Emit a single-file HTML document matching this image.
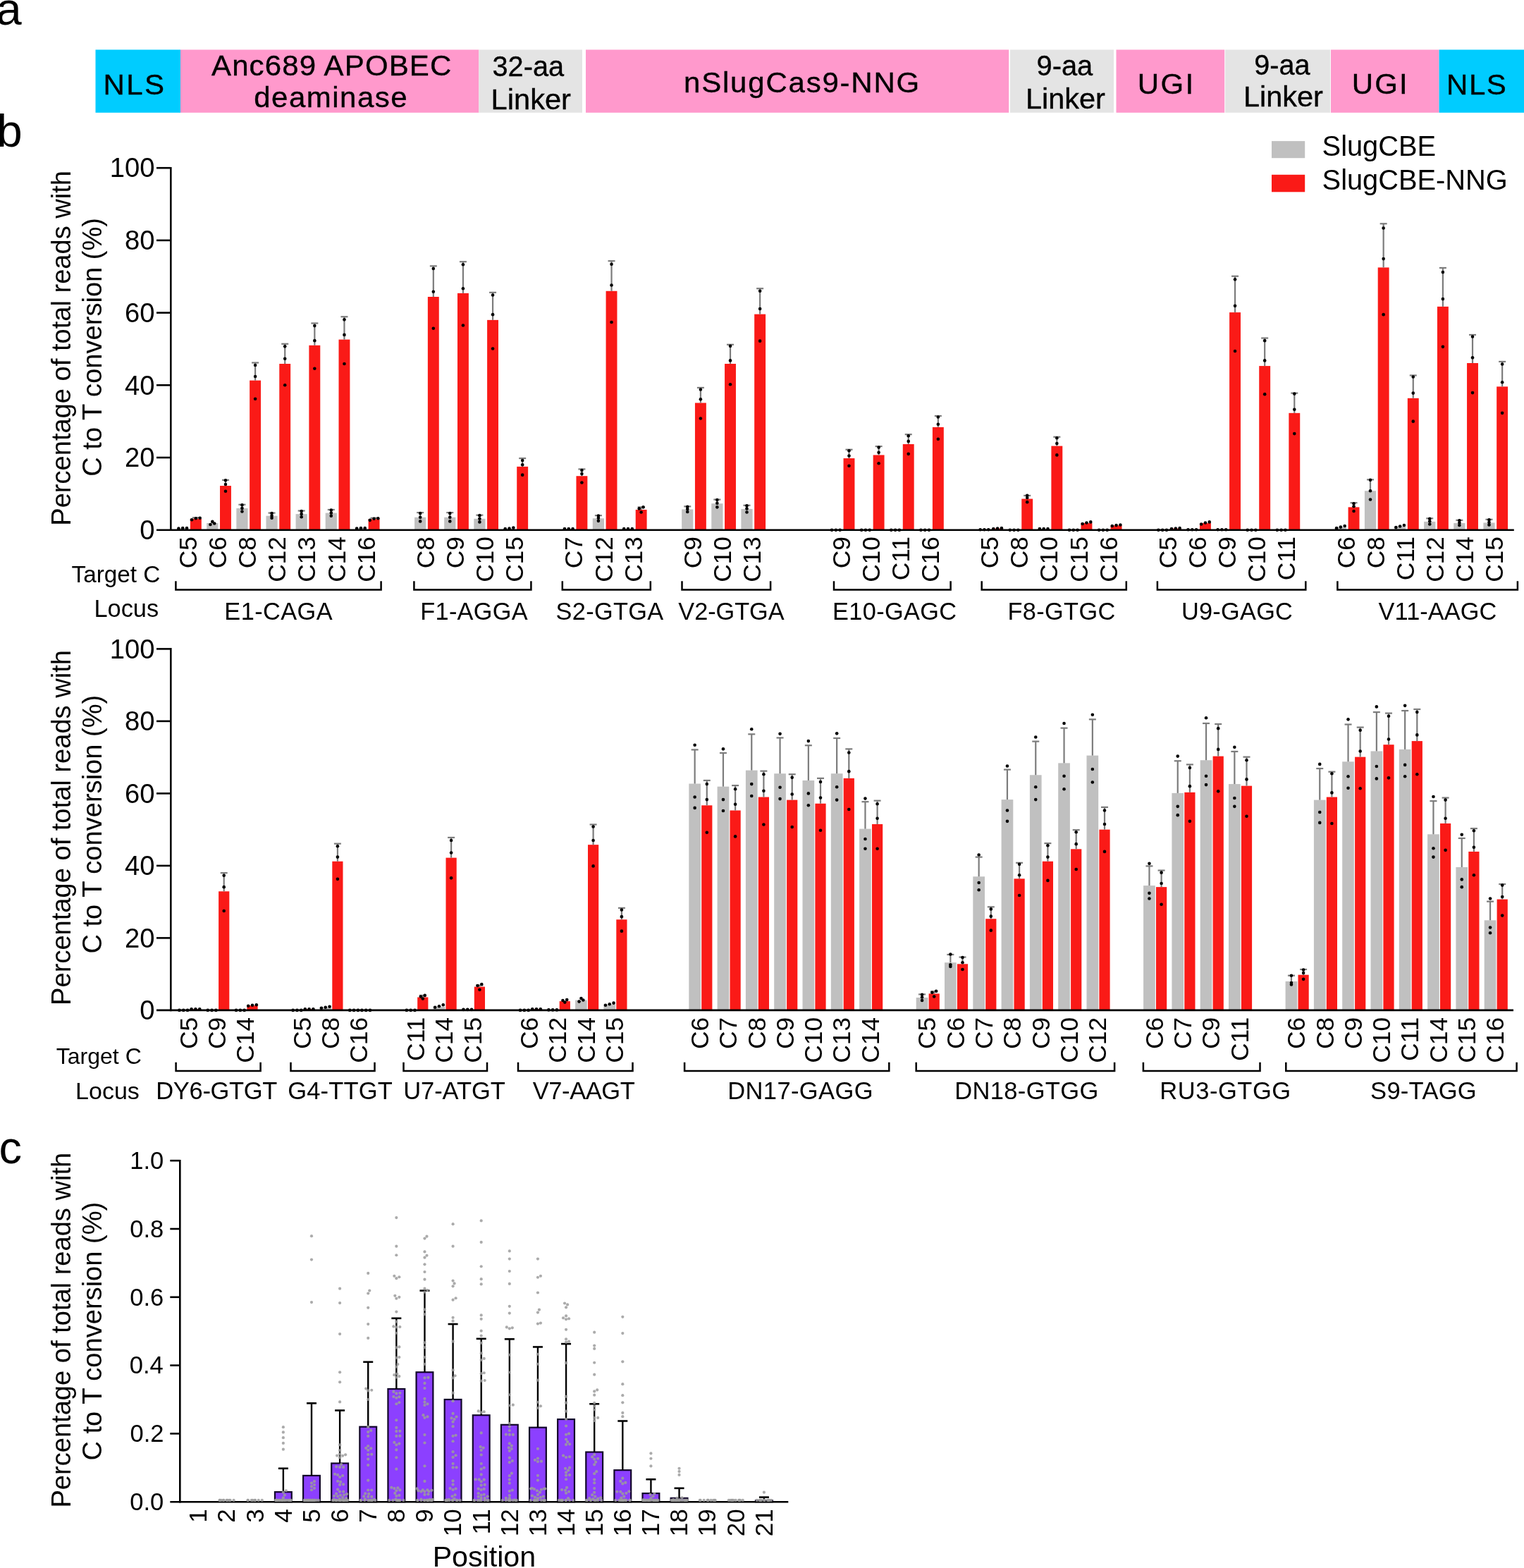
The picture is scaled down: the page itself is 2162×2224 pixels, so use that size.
<!DOCTYPE html>
<html><head><meta charset="utf-8"><title>Figure</title>
<style>html,body{margin:0;padding:0;background:#fff;overflow:hidden;} svg{display:block;}</style>
</head><body>
<svg width="2162" height="2224" viewBox="0 0 2162 2224" font-family="Liberation Sans, Arial, sans-serif">
<rect width="2162" height="2224" fill="#fff"/>
<text x="-5.5" y="35" font-size="65" text-anchor="start" fill="#000">a</text>
<text x="-4.5" y="207.5" font-size="65" text-anchor="start" fill="#000">b</text>
<text x="-1.6" y="1650" font-size="65" text-anchor="start" fill="#000">c</text>
<rect x="135.5" y="70.5" width="120.5" height="89.3" fill="#00ccff"/>
<rect x="256" y="70.5" width="423.3" height="89.3" fill="#ff99cc"/>
<rect x="679.3" y="70.5" width="146.7" height="89.3" fill="#e4e4e4"/>
<rect x="831" y="70.5" width="600.2" height="89.3" fill="#ff99cc"/>
<rect x="1433" y="70.5" width="147" height="89.3" fill="#e4e4e4"/>
<rect x="1583.5" y="70.5" width="153.7" height="89.3" fill="#ff99cc"/>
<rect x="1738.2" y="70.5" width="149" height="89.3" fill="#e4e4e4"/>
<rect x="1888" y="70.5" width="153.5" height="89.3" fill="#ff99cc"/>
<rect x="2041.5" y="70.5" width="120.5" height="89.3" fill="#00ccff"/>
<text transform="translate(146.59,134) scale(1.0500,1)" font-size="40" letter-spacing="2.20" stroke="#000" stroke-width="0.35">NLS</text>
<text transform="translate(300,107) scale(1.0500,1)" font-size="40" letter-spacing="1.07" stroke="#000" stroke-width="0.35">Anc689 APOBEC</text>
<text transform="translate(360.16,152) scale(1.0500,1)" font-size="40" letter-spacing="1.44" stroke="#000" stroke-width="0.35">deaminase</text>
<text transform="translate(698.51,108) scale(0.9926,1)" font-size="40" letter-spacing="0.00" stroke="#000" stroke-width="0.35">32-aa</text>
<text transform="translate(696.62,154.5) scale(1.0404,1)" font-size="40" letter-spacing="0.00" stroke="#000" stroke-width="0.35">Linker</text>
<text transform="translate(970.01,131.4) scale(1.0500,1)" font-size="40" letter-spacing="1.71" stroke="#000" stroke-width="0.35">nSlugCas9-NNG</text>
<text transform="translate(1470.46,107.4) scale(0.9968,1)" font-size="40" letter-spacing="0.00" stroke="#000" stroke-width="0.35">9-aa</text>
<text transform="translate(1454.93,153.6) scale(1.0375,1)" font-size="40" letter-spacing="0.00" stroke="#000" stroke-width="0.35">Linker</text>
<text transform="translate(1613.85,132.5) scale(1.0500,1)" font-size="40" letter-spacing="2.27" stroke="#000" stroke-width="0.35">UGI</text>
<text transform="translate(1779.27,106.25) scale(0.9904,1)" font-size="40" letter-spacing="0.00" stroke="#000" stroke-width="0.35">9-aa</text>
<text transform="translate(1763.88,151.25) scale(1.0380,1)" font-size="40" letter-spacing="0.00" stroke="#000" stroke-width="0.35">Linker</text>
<text transform="translate(1917.85,133) scale(1.0500,1)" font-size="40" letter-spacing="2.04" stroke="#000" stroke-width="0.35">UGI</text>
<text transform="translate(2052.09,134) scale(1.0500,1)" font-size="40" letter-spacing="1.48" stroke="#000" stroke-width="0.35">NLS</text>
<rect x="251.1" y="749.65" width="16.2" height="2.05" fill="#c0c0c0"/>
<rect x="269.9" y="735.78" width="15.9" height="15.92" fill="#fa1a17"/>
<line x1="277.85" y1="735.78" x2="277.85" y2="734.24" stroke="#7c7c7c" stroke-width="2.2"/>
<line x1="272.85" y1="734.24" x2="282.85" y2="734.24" stroke="#7c7c7c" stroke-width="2.2"/>
<rect x="293.22" y="741.94" width="16.2" height="9.76" fill="#c0c0c0"/>
<rect x="312.02" y="689.05" width="15.9" height="62.65" fill="#fa1a17"/>
<line x1="319.97" y1="689.05" x2="319.97" y2="680.84" stroke="#7c7c7c" stroke-width="2.2"/>
<line x1="314.97" y1="680.84" x2="324.97" y2="680.84" stroke="#7c7c7c" stroke-width="2.2"/>
<rect x="335.34" y="720.89" width="16.2" height="30.81" fill="#c0c0c0"/>
<line x1="343.44" y1="720.89" x2="343.44" y2="715.75" stroke="#7c7c7c" stroke-width="2.2"/>
<line x1="338.44" y1="715.75" x2="348.44" y2="715.75" stroke="#7c7c7c" stroke-width="2.2"/>
<rect x="354.14" y="539.62" width="15.9" height="212.08" fill="#fa1a17"/>
<line x1="362.09" y1="539.62" x2="362.09" y2="514.46" stroke="#7c7c7c" stroke-width="2.2"/>
<line x1="357.09" y1="514.46" x2="367.09" y2="514.46" stroke="#7c7c7c" stroke-width="2.2"/>
<rect x="377.46" y="731.67" width="16.2" height="20.03" fill="#c0c0c0"/>
<line x1="385.56" y1="731.67" x2="385.56" y2="727.57" stroke="#7c7c7c" stroke-width="2.2"/>
<line x1="380.56" y1="727.57" x2="390.56" y2="727.57" stroke="#7c7c7c" stroke-width="2.2"/>
<rect x="396.26" y="516" width="15.9" height="235.7" fill="#fa1a17"/>
<line x1="404.21" y1="516" x2="404.21" y2="487.76" stroke="#7c7c7c" stroke-width="2.2"/>
<line x1="399.21" y1="487.76" x2="409.21" y2="487.76" stroke="#7c7c7c" stroke-width="2.2"/>
<rect x="419.58" y="729.11" width="16.2" height="22.59" fill="#c0c0c0"/>
<line x1="427.68" y1="729.11" x2="427.68" y2="724.48" stroke="#7c7c7c" stroke-width="2.2"/>
<line x1="422.68" y1="724.48" x2="432.68" y2="724.48" stroke="#7c7c7c" stroke-width="2.2"/>
<rect x="438.38" y="489.82" width="15.9" height="261.88" fill="#fa1a17"/>
<line x1="446.33" y1="489.82" x2="446.33" y2="458.49" stroke="#7c7c7c" stroke-width="2.2"/>
<line x1="441.33" y1="458.49" x2="451.33" y2="458.49" stroke="#7c7c7c" stroke-width="2.2"/>
<rect x="461.7" y="727.57" width="16.2" height="24.13" fill="#c0c0c0"/>
<line x1="469.8" y1="727.57" x2="469.8" y2="722.94" stroke="#7c7c7c" stroke-width="2.2"/>
<line x1="464.8" y1="722.94" x2="474.8" y2="722.94" stroke="#7c7c7c" stroke-width="2.2"/>
<rect x="480.5" y="481.6" width="15.9" height="270.1" fill="#fa1a17"/>
<line x1="488.45" y1="481.6" x2="488.45" y2="449.25" stroke="#7c7c7c" stroke-width="2.2"/>
<line x1="483.45" y1="449.25" x2="493.45" y2="449.25" stroke="#7c7c7c" stroke-width="2.2"/>
<rect x="503.82" y="749.65" width="16.2" height="2.05" fill="#c0c0c0"/>
<rect x="522.62" y="736.3" width="15.9" height="15.4" fill="#fa1a17"/>
<line x1="530.57" y1="736.3" x2="530.57" y2="734.75" stroke="#7c7c7c" stroke-width="2.2"/>
<line x1="525.57" y1="734.75" x2="535.57" y2="734.75" stroke="#7c7c7c" stroke-width="2.2"/>
<rect x="588.06" y="733.73" width="16.2" height="17.97" fill="#c0c0c0"/>
<line x1="596.16" y1="733.73" x2="596.16" y2="727.05" stroke="#7c7c7c" stroke-width="2.2"/>
<line x1="591.16" y1="727.05" x2="601.16" y2="727.05" stroke="#7c7c7c" stroke-width="2.2"/>
<rect x="606.86" y="421.01" width="15.9" height="330.69" fill="#fa1a17"/>
<line x1="614.81" y1="421.01" x2="614.81" y2="377.36" stroke="#7c7c7c" stroke-width="2.2"/>
<line x1="609.81" y1="377.36" x2="619.81" y2="377.36" stroke="#7c7c7c" stroke-width="2.2"/>
<rect x="630.18" y="733.73" width="16.2" height="17.97" fill="#c0c0c0"/>
<line x1="638.28" y1="733.73" x2="638.28" y2="727.05" stroke="#7c7c7c" stroke-width="2.2"/>
<line x1="633.28" y1="727.05" x2="643.28" y2="727.05" stroke="#7c7c7c" stroke-width="2.2"/>
<rect x="648.98" y="415.87" width="15.9" height="335.83" fill="#fa1a17"/>
<line x1="656.93" y1="415.87" x2="656.93" y2="371.2" stroke="#7c7c7c" stroke-width="2.2"/>
<line x1="651.93" y1="371.2" x2="661.93" y2="371.2" stroke="#7c7c7c" stroke-width="2.2"/>
<rect x="672.3" y="735.78" width="16.2" height="15.92" fill="#c0c0c0"/>
<line x1="680.4" y1="735.78" x2="680.4" y2="730.65" stroke="#7c7c7c" stroke-width="2.2"/>
<line x1="675.4" y1="730.65" x2="685.4" y2="730.65" stroke="#7c7c7c" stroke-width="2.2"/>
<rect x="691.1" y="453.87" width="15.9" height="297.83" fill="#fa1a17"/>
<line x1="699.05" y1="453.87" x2="699.05" y2="414.84" stroke="#7c7c7c" stroke-width="2.2"/>
<line x1="694.05" y1="414.84" x2="704.05" y2="414.84" stroke="#7c7c7c" stroke-width="2.2"/>
<rect x="714.42" y="749.65" width="16.2" height="2.05" fill="#c0c0c0"/>
<rect x="733.22" y="661.84" width="15.9" height="89.86" fill="#fa1a17"/>
<line x1="741.17" y1="661.84" x2="741.17" y2="650.03" stroke="#7c7c7c" stroke-width="2.2"/>
<line x1="736.17" y1="650.03" x2="746.17" y2="650.03" stroke="#7c7c7c" stroke-width="2.2"/>
<rect x="798.66" y="750.16" width="16.2" height="1.54" fill="#c0c0c0"/>
<rect x="817.46" y="675.19" width="15.9" height="76.51" fill="#fa1a17"/>
<line x1="825.41" y1="675.19" x2="825.41" y2="665.43" stroke="#7c7c7c" stroke-width="2.2"/>
<line x1="820.41" y1="665.43" x2="830.41" y2="665.43" stroke="#7c7c7c" stroke-width="2.2"/>
<rect x="840.78" y="735.27" width="16.2" height="16.43" fill="#c0c0c0"/>
<line x1="848.88" y1="735.27" x2="848.88" y2="731.16" stroke="#7c7c7c" stroke-width="2.2"/>
<line x1="843.88" y1="731.16" x2="853.88" y2="731.16" stroke="#7c7c7c" stroke-width="2.2"/>
<rect x="859.58" y="412.79" width="15.9" height="338.91" fill="#fa1a17"/>
<line x1="867.53" y1="412.79" x2="867.53" y2="370.17" stroke="#7c7c7c" stroke-width="2.2"/>
<line x1="862.53" y1="370.17" x2="872.53" y2="370.17" stroke="#7c7c7c" stroke-width="2.2"/>
<rect x="882.9" y="750.16" width="16.2" height="1.54" fill="#c0c0c0"/>
<rect x="901.7" y="722.94" width="15.9" height="28.76" fill="#fa1a17"/>
<line x1="909.65" y1="722.94" x2="909.65" y2="719.35" stroke="#7c7c7c" stroke-width="2.2"/>
<line x1="904.65" y1="719.35" x2="914.65" y2="719.35" stroke="#7c7c7c" stroke-width="2.2"/>
<rect x="967.14" y="722.43" width="16.2" height="29.27" fill="#c0c0c0"/>
<line x1="975.24" y1="722.43" x2="975.24" y2="718.32" stroke="#7c7c7c" stroke-width="2.2"/>
<line x1="970.24" y1="718.32" x2="980.24" y2="718.32" stroke="#7c7c7c" stroke-width="2.2"/>
<rect x="985.94" y="571.46" width="15.9" height="180.24" fill="#fa1a17"/>
<line x1="993.89" y1="571.46" x2="993.89" y2="549.89" stroke="#7c7c7c" stroke-width="2.2"/>
<line x1="988.89" y1="549.89" x2="998.89" y2="549.89" stroke="#7c7c7c" stroke-width="2.2"/>
<rect x="1009.26" y="714.21" width="16.2" height="37.49" fill="#c0c0c0"/>
<line x1="1017.36" y1="714.21" x2="1017.36" y2="708.57" stroke="#7c7c7c" stroke-width="2.2"/>
<line x1="1012.36" y1="708.57" x2="1022.36" y2="708.57" stroke="#7c7c7c" stroke-width="2.2"/>
<rect x="1028.06" y="516" width="15.9" height="235.7" fill="#fa1a17"/>
<line x1="1036.01" y1="516" x2="1036.01" y2="488.79" stroke="#7c7c7c" stroke-width="2.2"/>
<line x1="1031.01" y1="488.79" x2="1041.01" y2="488.79" stroke="#7c7c7c" stroke-width="2.2"/>
<rect x="1051.38" y="721.92" width="16.2" height="29.78" fill="#c0c0c0"/>
<line x1="1059.48" y1="721.92" x2="1059.48" y2="716.78" stroke="#7c7c7c" stroke-width="2.2"/>
<line x1="1054.48" y1="716.78" x2="1064.48" y2="716.78" stroke="#7c7c7c" stroke-width="2.2"/>
<rect x="1070.18" y="445.65" width="15.9" height="306.05" fill="#fa1a17"/>
<line x1="1078.13" y1="445.65" x2="1078.13" y2="409.2" stroke="#7c7c7c" stroke-width="2.2"/>
<line x1="1073.13" y1="409.2" x2="1083.13" y2="409.2" stroke="#7c7c7c" stroke-width="2.2"/>
<rect x="1196.54" y="650.03" width="15.9" height="101.67" fill="#fa1a17"/>
<line x1="1204.49" y1="650.03" x2="1204.49" y2="637.7" stroke="#7c7c7c" stroke-width="2.2"/>
<line x1="1199.49" y1="637.7" x2="1209.49" y2="637.7" stroke="#7c7c7c" stroke-width="2.2"/>
<rect x="1238.66" y="645.41" width="15.9" height="106.29" fill="#fa1a17"/>
<line x1="1246.61" y1="645.41" x2="1246.61" y2="633.08" stroke="#7c7c7c" stroke-width="2.2"/>
<line x1="1241.61" y1="633.08" x2="1251.61" y2="633.08" stroke="#7c7c7c" stroke-width="2.2"/>
<rect x="1280.78" y="630" width="15.9" height="121.7" fill="#fa1a17"/>
<line x1="1288.73" y1="630" x2="1288.73" y2="616.14" stroke="#7c7c7c" stroke-width="2.2"/>
<line x1="1283.73" y1="616.14" x2="1293.73" y2="616.14" stroke="#7c7c7c" stroke-width="2.2"/>
<rect x="1322.9" y="605.87" width="15.9" height="145.83" fill="#fa1a17"/>
<line x1="1330.85" y1="605.87" x2="1330.85" y2="589.95" stroke="#7c7c7c" stroke-width="2.2"/>
<line x1="1325.85" y1="589.95" x2="1335.85" y2="589.95" stroke="#7c7c7c" stroke-width="2.2"/>
<rect x="1388.34" y="751.19" width="16.2" height="0.51" fill="#c0c0c0"/>
<rect x="1407.14" y="749.65" width="15.9" height="2.05" fill="#fa1a17"/>
<rect x="1449.26" y="707.54" width="15.9" height="44.16" fill="#fa1a17"/>
<line x1="1457.21" y1="707.54" x2="1457.21" y2="702.92" stroke="#7c7c7c" stroke-width="2.2"/>
<line x1="1452.21" y1="702.92" x2="1462.21" y2="702.92" stroke="#7c7c7c" stroke-width="2.2"/>
<rect x="1472.58" y="750.16" width="16.2" height="1.54" fill="#c0c0c0"/>
<rect x="1491.38" y="632.57" width="15.9" height="119.13" fill="#fa1a17"/>
<line x1="1499.33" y1="632.57" x2="1499.33" y2="619.73" stroke="#7c7c7c" stroke-width="2.2"/>
<line x1="1494.33" y1="619.73" x2="1504.33" y2="619.73" stroke="#7c7c7c" stroke-width="2.2"/>
<rect x="1533.5" y="741.94" width="15.9" height="9.76" fill="#fa1a17"/>
<rect x="1575.62" y="745.28" width="15.9" height="6.42" fill="#fa1a17"/>
<rect x="1659.86" y="749.65" width="15.9" height="2.05" fill="#fa1a17"/>
<rect x="1683.18" y="751.19" width="16.2" height="0.51" fill="#c0c0c0"/>
<rect x="1701.98" y="741.94" width="15.9" height="9.76" fill="#fa1a17"/>
<rect x="1725.3" y="751.19" width="16.2" height="0.51" fill="#c0c0c0"/>
<rect x="1744.1" y="443.09" width="15.9" height="308.61" fill="#fa1a17"/>
<line x1="1752.05" y1="443.09" x2="1752.05" y2="391.74" stroke="#7c7c7c" stroke-width="2.2"/>
<line x1="1747.05" y1="391.74" x2="1757.05" y2="391.74" stroke="#7c7c7c" stroke-width="2.2"/>
<rect x="1786.22" y="519.08" width="15.9" height="232.62" fill="#fa1a17"/>
<line x1="1794.17" y1="519.08" x2="1794.17" y2="479.55" stroke="#7c7c7c" stroke-width="2.2"/>
<line x1="1789.17" y1="479.55" x2="1799.17" y2="479.55" stroke="#7c7c7c" stroke-width="2.2"/>
<rect x="1828.34" y="585.84" width="15.9" height="165.86" fill="#fa1a17"/>
<line x1="1836.29" y1="585.84" x2="1836.29" y2="557.6" stroke="#7c7c7c" stroke-width="2.2"/>
<line x1="1831.29" y1="557.6" x2="1841.29" y2="557.6" stroke="#7c7c7c" stroke-width="2.2"/>
<rect x="1893.78" y="747.59" width="16.2" height="4.11" fill="#c0c0c0"/>
<rect x="1912.58" y="719.35" width="15.9" height="32.35" fill="#fa1a17"/>
<line x1="1920.53" y1="719.35" x2="1920.53" y2="713.19" stroke="#7c7c7c" stroke-width="2.2"/>
<line x1="1915.53" y1="713.19" x2="1925.53" y2="713.19" stroke="#7c7c7c" stroke-width="2.2"/>
<rect x="1935.9" y="696.24" width="16.2" height="55.46" fill="#c0c0c0"/>
<line x1="1944" y1="696.24" x2="1944" y2="680.32" stroke="#7c7c7c" stroke-width="2.2"/>
<line x1="1939" y1="680.32" x2="1949" y2="680.32" stroke="#7c7c7c" stroke-width="2.2"/>
<rect x="1954.7" y="379.41" width="15.9" height="372.29" fill="#fa1a17"/>
<line x1="1962.65" y1="379.41" x2="1962.65" y2="317.28" stroke="#7c7c7c" stroke-width="2.2"/>
<line x1="1957.65" y1="317.28" x2="1967.65" y2="317.28" stroke="#7c7c7c" stroke-width="2.2"/>
<rect x="1978.02" y="746.57" width="16.2" height="5.13" fill="#c0c0c0"/>
<rect x="1996.82" y="564.79" width="15.9" height="186.91" fill="#fa1a17"/>
<line x1="2004.77" y1="564.79" x2="2004.77" y2="532.44" stroke="#7c7c7c" stroke-width="2.2"/>
<line x1="1999.77" y1="532.44" x2="2009.77" y2="532.44" stroke="#7c7c7c" stroke-width="2.2"/>
<rect x="2020.14" y="739.89" width="16.2" height="11.81" fill="#c0c0c0"/>
<line x1="2028.24" y1="739.89" x2="2028.24" y2="735.27" stroke="#7c7c7c" stroke-width="2.2"/>
<line x1="2023.24" y1="735.27" x2="2033.24" y2="735.27" stroke="#7c7c7c" stroke-width="2.2"/>
<rect x="2038.94" y="434.87" width="15.9" height="316.83" fill="#fa1a17"/>
<line x1="2046.89" y1="434.87" x2="2046.89" y2="379.93" stroke="#7c7c7c" stroke-width="2.2"/>
<line x1="2041.89" y1="379.93" x2="2051.89" y2="379.93" stroke="#7c7c7c" stroke-width="2.2"/>
<rect x="2062.26" y="741.94" width="16.2" height="9.76" fill="#c0c0c0"/>
<line x1="2070.36" y1="741.94" x2="2070.36" y2="737.84" stroke="#7c7c7c" stroke-width="2.2"/>
<line x1="2065.36" y1="737.84" x2="2075.36" y2="737.84" stroke="#7c7c7c" stroke-width="2.2"/>
<rect x="2081.06" y="514.98" width="15.9" height="236.72" fill="#fa1a17"/>
<line x1="2089.01" y1="514.98" x2="2089.01" y2="474.92" stroke="#7c7c7c" stroke-width="2.2"/>
<line x1="2084.01" y1="474.92" x2="2094.01" y2="474.92" stroke="#7c7c7c" stroke-width="2.2"/>
<rect x="2104.38" y="741.43" width="16.2" height="10.27" fill="#c0c0c0"/>
<line x1="2112.48" y1="741.43" x2="2112.48" y2="736.81" stroke="#7c7c7c" stroke-width="2.2"/>
<line x1="2107.48" y1="736.81" x2="2117.48" y2="736.81" stroke="#7c7c7c" stroke-width="2.2"/>
<rect x="2123.18" y="548.35" width="15.9" height="203.35" fill="#fa1a17"/>
<line x1="2131.13" y1="548.35" x2="2131.13" y2="512.92" stroke="#7c7c7c" stroke-width="2.2"/>
<line x1="2126.13" y1="512.92" x2="2136.13" y2="512.92" stroke="#7c7c7c" stroke-width="2.2"/>
<circle cx="253.4" cy="749.65" r="2.3" fill="#000"/>
<circle cx="259.2" cy="749.13" r="2.3" fill="#000"/>
<circle cx="265" cy="749.13" r="2.3" fill="#000"/>
<circle cx="272.05" cy="737.32" r="2.3" fill="#000"/>
<circle cx="277.85" cy="735.27" r="2.3" fill="#000"/>
<circle cx="283.65" cy="734.75" r="2.3" fill="#000"/>
<circle cx="298.42" cy="744" r="2.3" fill="#000"/>
<circle cx="304.22" cy="742.46" r="2.3" fill="#000"/>
<circle cx="301.32" cy="739.89" r="2.3" fill="#000"/>
<circle cx="319.97" cy="696.76" r="2.3" fill="#000"/>
<circle cx="319.97" cy="687" r="2.3" fill="#000"/>
<circle cx="319.97" cy="681.35" r="2.3" fill="#000"/>
<circle cx="343.44" cy="725.51" r="2.3" fill="#000"/>
<circle cx="343.44" cy="720.89" r="2.3" fill="#000"/>
<circle cx="343.44" cy="716.27" r="2.3" fill="#000"/>
<circle cx="362.09" cy="565.81" r="2.3" fill="#000"/>
<circle cx="362.09" cy="533.98" r="2.3" fill="#000"/>
<circle cx="362.09" cy="518.06" r="2.3" fill="#000"/>
<circle cx="385.56" cy="734.75" r="2.3" fill="#000"/>
<circle cx="385.56" cy="731.67" r="2.3" fill="#000"/>
<circle cx="385.56" cy="728.08" r="2.3" fill="#000"/>
<circle cx="404.21" cy="546.3" r="2.3" fill="#000"/>
<circle cx="404.21" cy="508.81" r="2.3" fill="#000"/>
<circle cx="404.21" cy="491.36" r="2.3" fill="#000"/>
<circle cx="427.68" cy="733.21" r="2.3" fill="#000"/>
<circle cx="427.68" cy="729.11" r="2.3" fill="#000"/>
<circle cx="427.68" cy="725" r="2.3" fill="#000"/>
<circle cx="446.33" cy="522.68" r="2.3" fill="#000"/>
<circle cx="446.33" cy="483.14" r="2.3" fill="#000"/>
<circle cx="446.33" cy="462.09" r="2.3" fill="#000"/>
<circle cx="469.8" cy="731.67" r="2.3" fill="#000"/>
<circle cx="469.8" cy="727.57" r="2.3" fill="#000"/>
<circle cx="469.8" cy="723.46" r="2.3" fill="#000"/>
<circle cx="488.45" cy="516" r="2.3" fill="#000"/>
<circle cx="488.45" cy="474.92" r="2.3" fill="#000"/>
<circle cx="488.45" cy="453.36" r="2.3" fill="#000"/>
<circle cx="506.12" cy="749.65" r="2.3" fill="#000"/>
<circle cx="511.92" cy="749.13" r="2.3" fill="#000"/>
<circle cx="517.72" cy="749.13" r="2.3" fill="#000"/>
<circle cx="524.77" cy="737.84" r="2.3" fill="#000"/>
<circle cx="530.57" cy="735.78" r="2.3" fill="#000"/>
<circle cx="536.37" cy="735.27" r="2.3" fill="#000"/>
<circle cx="596.16" cy="739.38" r="2.3" fill="#000"/>
<circle cx="596.16" cy="733.73" r="2.3" fill="#000"/>
<circle cx="596.16" cy="728.08" r="2.3" fill="#000"/>
<circle cx="614.81" cy="465.68" r="2.3" fill="#000"/>
<circle cx="614.81" cy="413.82" r="2.3" fill="#000"/>
<circle cx="614.81" cy="380.95" r="2.3" fill="#000"/>
<circle cx="638.28" cy="739.38" r="2.3" fill="#000"/>
<circle cx="638.28" cy="733.73" r="2.3" fill="#000"/>
<circle cx="638.28" cy="728.08" r="2.3" fill="#000"/>
<circle cx="656.93" cy="461.57" r="2.3" fill="#000"/>
<circle cx="656.93" cy="409.2" r="2.3" fill="#000"/>
<circle cx="656.93" cy="375.3" r="2.3" fill="#000"/>
<circle cx="680.4" cy="740.4" r="2.3" fill="#000"/>
<circle cx="680.4" cy="735.78" r="2.3" fill="#000"/>
<circle cx="680.4" cy="731.16" r="2.3" fill="#000"/>
<circle cx="699.05" cy="494.44" r="2.3" fill="#000"/>
<circle cx="699.05" cy="446.17" r="2.3" fill="#000"/>
<circle cx="699.05" cy="418.44" r="2.3" fill="#000"/>
<circle cx="716.72" cy="750.16" r="2.3" fill="#000"/>
<circle cx="722.52" cy="749.65" r="2.3" fill="#000"/>
<circle cx="728.32" cy="748.62" r="2.3" fill="#000"/>
<circle cx="741.17" cy="673.65" r="2.3" fill="#000"/>
<circle cx="741.17" cy="659.27" r="2.3" fill="#000"/>
<circle cx="741.17" cy="653.11" r="2.3" fill="#000"/>
<circle cx="800.96" cy="750.16" r="2.3" fill="#000"/>
<circle cx="806.76" cy="750.16" r="2.3" fill="#000"/>
<circle cx="812.56" cy="750.16" r="2.3" fill="#000"/>
<circle cx="825.41" cy="684.43" r="2.3" fill="#000"/>
<circle cx="825.41" cy="672.11" r="2.3" fill="#000"/>
<circle cx="825.41" cy="666.97" r="2.3" fill="#000"/>
<circle cx="848.88" cy="738.86" r="2.3" fill="#000"/>
<circle cx="848.88" cy="734.75" r="2.3" fill="#000"/>
<circle cx="848.88" cy="731.67" r="2.3" fill="#000"/>
<circle cx="867.53" cy="456.95" r="2.3" fill="#000"/>
<circle cx="867.53" cy="404.57" r="2.3" fill="#000"/>
<circle cx="867.53" cy="374.79" r="2.3" fill="#000"/>
<circle cx="885.2" cy="750.16" r="2.3" fill="#000"/>
<circle cx="891" cy="750.16" r="2.3" fill="#000"/>
<circle cx="896.8" cy="750.16" r="2.3" fill="#000"/>
<circle cx="909.65" cy="726.54" r="2.3" fill="#000"/>
<circle cx="906.75" cy="721.4" r="2.3" fill="#000"/>
<circle cx="912.55" cy="719.35" r="2.3" fill="#000"/>
<circle cx="975.24" cy="726.03" r="2.3" fill="#000"/>
<circle cx="975.24" cy="721.92" r="2.3" fill="#000"/>
<circle cx="975.24" cy="718.84" r="2.3" fill="#000"/>
<circle cx="993.89" cy="593.54" r="2.3" fill="#000"/>
<circle cx="993.89" cy="566.33" r="2.3" fill="#000"/>
<circle cx="993.89" cy="552.46" r="2.3" fill="#000"/>
<circle cx="1017.36" cy="719.35" r="2.3" fill="#000"/>
<circle cx="1017.36" cy="713.7" r="2.3" fill="#000"/>
<circle cx="1017.36" cy="709.08" r="2.3" fill="#000"/>
<circle cx="1036.01" cy="545.27" r="2.3" fill="#000"/>
<circle cx="1036.01" cy="511.38" r="2.3" fill="#000"/>
<circle cx="1036.01" cy="490.84" r="2.3" fill="#000"/>
<circle cx="1059.48" cy="726.54" r="2.3" fill="#000"/>
<circle cx="1059.48" cy="721.4" r="2.3" fill="#000"/>
<circle cx="1059.48" cy="717.3" r="2.3" fill="#000"/>
<circle cx="1078.13" cy="483.65" r="2.3" fill="#000"/>
<circle cx="1078.13" cy="437.95" r="2.3" fill="#000"/>
<circle cx="1078.13" cy="412.79" r="2.3" fill="#000"/>
<circle cx="1180.04" cy="751.7" r="2.3" fill="#000"/>
<circle cx="1185.84" cy="751.7" r="2.3" fill="#000"/>
<circle cx="1191.64" cy="751.7" r="2.3" fill="#000"/>
<circle cx="1204.49" cy="660.81" r="2.3" fill="#000"/>
<circle cx="1204.49" cy="646.43" r="2.3" fill="#000"/>
<circle cx="1204.49" cy="639.24" r="2.3" fill="#000"/>
<circle cx="1222.16" cy="751.7" r="2.3" fill="#000"/>
<circle cx="1227.96" cy="751.7" r="2.3" fill="#000"/>
<circle cx="1233.76" cy="751.7" r="2.3" fill="#000"/>
<circle cx="1246.61" cy="657.22" r="2.3" fill="#000"/>
<circle cx="1246.61" cy="641.81" r="2.3" fill="#000"/>
<circle cx="1246.61" cy="634.62" r="2.3" fill="#000"/>
<circle cx="1264.28" cy="751.7" r="2.3" fill="#000"/>
<circle cx="1270.08" cy="751.7" r="2.3" fill="#000"/>
<circle cx="1275.88" cy="751.7" r="2.3" fill="#000"/>
<circle cx="1288.73" cy="643.87" r="2.3" fill="#000"/>
<circle cx="1288.73" cy="625.89" r="2.3" fill="#000"/>
<circle cx="1288.73" cy="618.19" r="2.3" fill="#000"/>
<circle cx="1306.4" cy="751.7" r="2.3" fill="#000"/>
<circle cx="1312.2" cy="751.7" r="2.3" fill="#000"/>
<circle cx="1318" cy="751.7" r="2.3" fill="#000"/>
<circle cx="1330.85" cy="622.81" r="2.3" fill="#000"/>
<circle cx="1330.85" cy="601.76" r="2.3" fill="#000"/>
<circle cx="1330.85" cy="591.49" r="2.3" fill="#000"/>
<circle cx="1390.64" cy="751.19" r="2.3" fill="#000"/>
<circle cx="1396.44" cy="751.19" r="2.3" fill="#000"/>
<circle cx="1402.24" cy="751.19" r="2.3" fill="#000"/>
<circle cx="1409.29" cy="750.16" r="2.3" fill="#000"/>
<circle cx="1415.09" cy="749.65" r="2.3" fill="#000"/>
<circle cx="1420.89" cy="749.13" r="2.3" fill="#000"/>
<circle cx="1432.76" cy="751.7" r="2.3" fill="#000"/>
<circle cx="1438.56" cy="751.7" r="2.3" fill="#000"/>
<circle cx="1444.36" cy="751.7" r="2.3" fill="#000"/>
<circle cx="1457.21" cy="712.16" r="2.3" fill="#000"/>
<circle cx="1457.21" cy="706" r="2.3" fill="#000"/>
<circle cx="1457.21" cy="702.92" r="2.3" fill="#000"/>
<circle cx="1474.88" cy="750.16" r="2.3" fill="#000"/>
<circle cx="1480.68" cy="750.16" r="2.3" fill="#000"/>
<circle cx="1486.48" cy="750.16" r="2.3" fill="#000"/>
<circle cx="1499.33" cy="645.41" r="2.3" fill="#000"/>
<circle cx="1499.33" cy="628.97" r="2.3" fill="#000"/>
<circle cx="1499.33" cy="621.27" r="2.3" fill="#000"/>
<circle cx="1517" cy="751.7" r="2.3" fill="#000"/>
<circle cx="1522.8" cy="751.7" r="2.3" fill="#000"/>
<circle cx="1528.6" cy="751.7" r="2.3" fill="#000"/>
<circle cx="1535.65" cy="742.97" r="2.3" fill="#000"/>
<circle cx="1541.45" cy="741.43" r="2.3" fill="#000"/>
<circle cx="1547.25" cy="740.4" r="2.3" fill="#000"/>
<circle cx="1559.12" cy="751.7" r="2.3" fill="#000"/>
<circle cx="1564.92" cy="751.7" r="2.3" fill="#000"/>
<circle cx="1570.72" cy="751.7" r="2.3" fill="#000"/>
<circle cx="1577.77" cy="746.05" r="2.3" fill="#000"/>
<circle cx="1583.57" cy="745.02" r="2.3" fill="#000"/>
<circle cx="1589.37" cy="744.51" r="2.3" fill="#000"/>
<circle cx="1643.36" cy="751.7" r="2.3" fill="#000"/>
<circle cx="1649.16" cy="751.7" r="2.3" fill="#000"/>
<circle cx="1654.96" cy="751.7" r="2.3" fill="#000"/>
<circle cx="1662.01" cy="750.16" r="2.3" fill="#000"/>
<circle cx="1667.81" cy="749.65" r="2.3" fill="#000"/>
<circle cx="1673.61" cy="749.13" r="2.3" fill="#000"/>
<circle cx="1685.48" cy="751.19" r="2.3" fill="#000"/>
<circle cx="1691.28" cy="751.19" r="2.3" fill="#000"/>
<circle cx="1697.08" cy="751.19" r="2.3" fill="#000"/>
<circle cx="1704.13" cy="743.48" r="2.3" fill="#000"/>
<circle cx="1709.93" cy="741.43" r="2.3" fill="#000"/>
<circle cx="1715.73" cy="740.4" r="2.3" fill="#000"/>
<circle cx="1727.6" cy="751.19" r="2.3" fill="#000"/>
<circle cx="1733.4" cy="751.19" r="2.3" fill="#000"/>
<circle cx="1739.2" cy="751.19" r="2.3" fill="#000"/>
<circle cx="1752.05" cy="498.03" r="2.3" fill="#000"/>
<circle cx="1752.05" cy="433.84" r="2.3" fill="#000"/>
<circle cx="1752.05" cy="396.36" r="2.3" fill="#000"/>
<circle cx="1769.72" cy="751.7" r="2.3" fill="#000"/>
<circle cx="1775.52" cy="751.7" r="2.3" fill="#000"/>
<circle cx="1781.32" cy="751.7" r="2.3" fill="#000"/>
<circle cx="1794.17" cy="559.14" r="2.3" fill="#000"/>
<circle cx="1794.17" cy="511.38" r="2.3" fill="#000"/>
<circle cx="1794.17" cy="483.14" r="2.3" fill="#000"/>
<circle cx="1811.84" cy="751.7" r="2.3" fill="#000"/>
<circle cx="1817.64" cy="751.7" r="2.3" fill="#000"/>
<circle cx="1823.44" cy="751.7" r="2.3" fill="#000"/>
<circle cx="1836.29" cy="615.11" r="2.3" fill="#000"/>
<circle cx="1836.29" cy="580.7" r="2.3" fill="#000"/>
<circle cx="1836.29" cy="558.62" r="2.3" fill="#000"/>
<circle cx="1896.08" cy="749.13" r="2.3" fill="#000"/>
<circle cx="1901.88" cy="747.59" r="2.3" fill="#000"/>
<circle cx="1907.68" cy="746.05" r="2.3" fill="#000"/>
<circle cx="1920.53" cy="725" r="2.3" fill="#000"/>
<circle cx="1920.53" cy="718.32" r="2.3" fill="#000"/>
<circle cx="1920.53" cy="714.21" r="2.3" fill="#000"/>
<circle cx="1944" cy="708.57" r="2.3" fill="#000"/>
<circle cx="1944" cy="696.24" r="2.3" fill="#000"/>
<circle cx="1944" cy="680.84" r="2.3" fill="#000"/>
<circle cx="1962.65" cy="446.17" r="2.3" fill="#000"/>
<circle cx="1962.65" cy="367.09" r="2.3" fill="#000"/>
<circle cx="1962.65" cy="323.44" r="2.3" fill="#000"/>
<circle cx="1980.32" cy="748.11" r="2.3" fill="#000"/>
<circle cx="1986.12" cy="746.57" r="2.3" fill="#000"/>
<circle cx="1991.92" cy="745.02" r="2.3" fill="#000"/>
<circle cx="2004.77" cy="597.65" r="2.3" fill="#000"/>
<circle cx="2004.77" cy="557.6" r="2.3" fill="#000"/>
<circle cx="2004.77" cy="534.49" r="2.3" fill="#000"/>
<circle cx="2028.24" cy="743.48" r="2.3" fill="#000"/>
<circle cx="2028.24" cy="739.38" r="2.3" fill="#000"/>
<circle cx="2028.24" cy="735.78" r="2.3" fill="#000"/>
<circle cx="2046.89" cy="491.87" r="2.3" fill="#000"/>
<circle cx="2046.89" cy="424.09" r="2.3" fill="#000"/>
<circle cx="2046.89" cy="386.09" r="2.3" fill="#000"/>
<circle cx="2070.36" cy="745.02" r="2.3" fill="#000"/>
<circle cx="2070.36" cy="741.43" r="2.3" fill="#000"/>
<circle cx="2070.36" cy="738.35" r="2.3" fill="#000"/>
<circle cx="2089.01" cy="557.08" r="2.3" fill="#000"/>
<circle cx="2089.01" cy="507.27" r="2.3" fill="#000"/>
<circle cx="2089.01" cy="477.49" r="2.3" fill="#000"/>
<circle cx="2112.48" cy="744.51" r="2.3" fill="#000"/>
<circle cx="2112.48" cy="740.92" r="2.3" fill="#000"/>
<circle cx="2112.48" cy="737.32" r="2.3" fill="#000"/>
<circle cx="2131.13" cy="585.84" r="2.3" fill="#000"/>
<circle cx="2131.13" cy="542.19" r="2.3" fill="#000"/>
<circle cx="2131.13" cy="516.52" r="2.3" fill="#000"/>
<line x1="242.3" y1="236.9" x2="242.3" y2="753" stroke="#000" stroke-width="2.6"/>
<line x1="222" y1="751.7" x2="2147.8" y2="751.7" stroke="#000" stroke-width="2.6"/>
<line x1="222" y1="649" x2="242.3" y2="649" stroke="#000" stroke-width="2.6"/>
<line x1="222" y1="546.3" x2="242.3" y2="546.3" stroke="#000" stroke-width="2.6"/>
<line x1="222" y1="443.6" x2="242.3" y2="443.6" stroke="#000" stroke-width="2.6"/>
<line x1="222" y1="340.9" x2="242.3" y2="340.9" stroke="#000" stroke-width="2.6"/>
<line x1="222" y1="238.2" x2="242.3" y2="238.2" stroke="#000" stroke-width="2.6"/>
<text x="198.2" y="764.95" font-size="38.2" text-anchor="start" fill="#000">0</text>
<text x="176.95" y="662.25" font-size="38.2" text-anchor="start" fill="#000">20</text>
<text x="176.95" y="559.55" font-size="38.2" text-anchor="start" fill="#000">40</text>
<text x="176.95" y="456.85" font-size="38.2" text-anchor="start" fill="#000">60</text>
<text x="176.95" y="354.15" font-size="38.2" text-anchor="start" fill="#000">80</text>
<text x="155.7" y="251.45" font-size="38.2" text-anchor="start" fill="#000">100</text>
<text transform="translate(100.3,745.77) rotate(-90)" font-size="38.1" text-anchor="start" fill="#000">Percentage of total reads with</text>
<text transform="translate(144.3,675.77) rotate(-90)" font-size="38.1" text-anchor="start" fill="#000">C to T conversion (%)</text>
<text transform="translate(278.9,761.1) rotate(-90)" font-size="35.3" text-anchor="end" fill="#000">C5</text>
<text transform="translate(321.02,761.1) rotate(-90)" font-size="35.3" text-anchor="end" fill="#000">C6</text>
<text transform="translate(363.14,761.1) rotate(-90)" font-size="35.3" text-anchor="end" fill="#000">C8</text>
<text transform="translate(405.26,761.1) rotate(-90)" font-size="35.3" text-anchor="end" fill="#000">C12</text>
<text transform="translate(447.38,761.1) rotate(-90)" font-size="35.3" text-anchor="end" fill="#000">C13</text>
<text transform="translate(489.5,761.1) rotate(-90)" font-size="35.3" text-anchor="end" fill="#000">C14</text>
<text transform="translate(531.62,761.1) rotate(-90)" font-size="35.3" text-anchor="end" fill="#000">C16</text>
<text transform="translate(615.86,761.1) rotate(-90)" font-size="35.3" text-anchor="end" fill="#000">C8</text>
<text transform="translate(657.98,761.1) rotate(-90)" font-size="35.3" text-anchor="end" fill="#000">C9</text>
<text transform="translate(700.1,761.1) rotate(-90)" font-size="35.3" text-anchor="end" fill="#000">C10</text>
<text transform="translate(742.22,761.1) rotate(-90)" font-size="35.3" text-anchor="end" fill="#000">C15</text>
<text transform="translate(826.46,761.1) rotate(-90)" font-size="35.3" text-anchor="end" fill="#000">C7</text>
<text transform="translate(868.58,761.1) rotate(-90)" font-size="35.3" text-anchor="end" fill="#000">C12</text>
<text transform="translate(910.7,761.1) rotate(-90)" font-size="35.3" text-anchor="end" fill="#000">C13</text>
<text transform="translate(994.94,761.1) rotate(-90)" font-size="35.3" text-anchor="end" fill="#000">C9</text>
<text transform="translate(1037.06,761.1) rotate(-90)" font-size="35.3" text-anchor="end" fill="#000">C10</text>
<text transform="translate(1079.18,761.1) rotate(-90)" font-size="35.3" text-anchor="end" fill="#000">C13</text>
<text transform="translate(1205.54,761.1) rotate(-90)" font-size="35.3" text-anchor="end" fill="#000">C9</text>
<text transform="translate(1247.66,761.1) rotate(-90)" font-size="35.3" text-anchor="end" fill="#000">C10</text>
<text transform="translate(1289.78,761.1) rotate(-90)" font-size="35.3" text-anchor="end" fill="#000">C11</text>
<text transform="translate(1331.9,761.1) rotate(-90)" font-size="35.3" text-anchor="end" fill="#000">C16</text>
<text transform="translate(1416.14,761.1) rotate(-90)" font-size="35.3" text-anchor="end" fill="#000">C5</text>
<text transform="translate(1458.26,761.1) rotate(-90)" font-size="35.3" text-anchor="end" fill="#000">C8</text>
<text transform="translate(1500.38,761.1) rotate(-90)" font-size="35.3" text-anchor="end" fill="#000">C10</text>
<text transform="translate(1542.5,761.1) rotate(-90)" font-size="35.3" text-anchor="end" fill="#000">C15</text>
<text transform="translate(1584.62,761.1) rotate(-90)" font-size="35.3" text-anchor="end" fill="#000">C16</text>
<text transform="translate(1668.86,761.1) rotate(-90)" font-size="35.3" text-anchor="end" fill="#000">C5</text>
<text transform="translate(1710.98,761.1) rotate(-90)" font-size="35.3" text-anchor="end" fill="#000">C6</text>
<text transform="translate(1753.1,761.1) rotate(-90)" font-size="35.3" text-anchor="end" fill="#000">C9</text>
<text transform="translate(1795.22,761.1) rotate(-90)" font-size="35.3" text-anchor="end" fill="#000">C10</text>
<text transform="translate(1837.34,761.1) rotate(-90)" font-size="35.3" text-anchor="end" fill="#000">C11</text>
<text transform="translate(1921.58,761.1) rotate(-90)" font-size="35.3" text-anchor="end" fill="#000">C6</text>
<text transform="translate(1963.7,761.1) rotate(-90)" font-size="35.3" text-anchor="end" fill="#000">C8</text>
<text transform="translate(2005.82,761.1) rotate(-90)" font-size="35.3" text-anchor="end" fill="#000">C11</text>
<text transform="translate(2047.94,761.1) rotate(-90)" font-size="35.3" text-anchor="end" fill="#000">C12</text>
<text transform="translate(2090.06,761.1) rotate(-90)" font-size="35.3" text-anchor="end" fill="#000">C14</text>
<text transform="translate(2132.18,761.1) rotate(-90)" font-size="35.3" text-anchor="end" fill="#000">C15</text>
<path d="M249.4,824.3 V836.4 H540.6 V824.3" fill="none" stroke="#000" stroke-width="2.5"/>
<text x="318.3" y="879" font-size="34.3" text-anchor="start" letter-spacing="0.46" fill="#000">E1-CAGA</text>
<path d="M587.4,824.3 V836.4 H753.4 V824.3" fill="none" stroke="#000" stroke-width="2.5"/>
<text x="596.3" y="879" font-size="34.3" text-anchor="start" letter-spacing="0.29" fill="#000">F1-AGGA</text>
<path d="M797.8,824.3 V836.4 H922.8 V824.3" fill="none" stroke="#000" stroke-width="2.5"/>
<text x="788.55" y="879" font-size="34.3" text-anchor="start" letter-spacing="0.33" fill="#000">S2-GTGA</text>
<path d="M967.5,824.3 V836.4 H1093.1 V824.3" fill="none" stroke="#000" stroke-width="2.5"/>
<text x="962.3" y="879" font-size="34.3" text-anchor="start" letter-spacing="-0.04" fill="#000">V2-GTGA</text>
<path d="M1183,824.3 V836.4 H1348.6 V824.3" fill="none" stroke="#000" stroke-width="2.5"/>
<text x="1181" y="879" font-size="34.3" text-anchor="start" letter-spacing="0.37" fill="#000">E10-GAGC</text>
<path d="M1392.7,824.3 V836.4 H1597.8 V824.3" fill="none" stroke="#000" stroke-width="2.5"/>
<text x="1429.4" y="879" font-size="34.3" text-anchor="start" letter-spacing="0.4" fill="#000">F8-GTGC</text>
<path d="M1641.9,824.3 V836.4 H1852.3 V824.3" fill="none" stroke="#000" stroke-width="2.5"/>
<text x="1675.95" y="879" font-size="34.3" text-anchor="start" letter-spacing="0.28" fill="#000">U9-GAGC</text>
<path d="M1897.4,824.3 V836.4 H2152.9 V824.3" fill="none" stroke="#000" stroke-width="2.5"/>
<text x="1955.6" y="879" font-size="34.3" text-anchor="start" letter-spacing="0.08" fill="#000">V11-AAGC</text>
<text x="101.55" y="826" font-size="33.3" text-anchor="start" fill="#000">Target C</text>
<text x="133.4" y="875.2" font-size="34.4" text-anchor="start" fill="#000">Locus</text>
<rect x="269.8" y="1431.36" width="15.2" height="1.54" fill="#fa1a17"/>
<rect x="310.1" y="1264.29" width="15.2" height="168.61" fill="#fa1a17"/>
<line x1="317.7" y1="1264.29" x2="317.7" y2="1238.15" stroke="#7c7c7c" stroke-width="2.2"/>
<line x1="312.7" y1="1238.15" x2="322.7" y2="1238.15" stroke="#7c7c7c" stroke-width="2.2"/>
<rect x="350.4" y="1426.24" width="15.2" height="6.66" fill="#fa1a17"/>
<rect x="431" y="1431.36" width="15.2" height="1.54" fill="#fa1a17"/>
<rect x="453.4" y="1428.8" width="16.7" height="4.1" fill="#c0c0c0"/>
<rect x="471.3" y="1221.75" width="15.2" height="211.15" fill="#fa1a17"/>
<line x1="478.9" y1="1221.75" x2="478.9" y2="1196.64" stroke="#7c7c7c" stroke-width="2.2"/>
<line x1="473.9" y1="1196.64" x2="483.9" y2="1196.64" stroke="#7c7c7c" stroke-width="2.2"/>
<rect x="592.2" y="1414.45" width="15.2" height="18.45" fill="#fa1a17"/>
<line x1="599.8" y1="1414.45" x2="599.8" y2="1411.89" stroke="#7c7c7c" stroke-width="2.2"/>
<line x1="594.8" y1="1411.89" x2="604.8" y2="1411.89" stroke="#7c7c7c" stroke-width="2.2"/>
<rect x="614.6" y="1427.78" width="16.7" height="5.12" fill="#c0c0c0"/>
<rect x="632.5" y="1216.62" width="15.2" height="216.28" fill="#fa1a17"/>
<line x1="640.1" y1="1216.62" x2="640.1" y2="1187.93" stroke="#7c7c7c" stroke-width="2.2"/>
<line x1="635.1" y1="1187.93" x2="645.1" y2="1187.93" stroke="#7c7c7c" stroke-width="2.2"/>
<rect x="654.9" y="1431.88" width="16.7" height="1.03" fill="#c0c0c0"/>
<rect x="672.8" y="1399.59" width="15.2" height="33.31" fill="#fa1a17"/>
<line x1="680.4" y1="1399.59" x2="680.4" y2="1397.54" stroke="#7c7c7c" stroke-width="2.2"/>
<line x1="675.4" y1="1397.54" x2="685.4" y2="1397.54" stroke="#7c7c7c" stroke-width="2.2"/>
<rect x="753.4" y="1431.36" width="15.2" height="1.54" fill="#fa1a17"/>
<rect x="775.8" y="1432.39" width="16.7" height="0.51" fill="#c0c0c0"/>
<rect x="793.7" y="1420.09" width="15.2" height="12.81" fill="#fa1a17"/>
<rect x="816.1" y="1418.55" width="16.7" height="14.35" fill="#c0c0c0"/>
<rect x="834" y="1198.18" width="15.2" height="234.72" fill="#fa1a17"/>
<line x1="841.6" y1="1198.18" x2="841.6" y2="1169.48" stroke="#7c7c7c" stroke-width="2.2"/>
<line x1="836.6" y1="1169.48" x2="846.6" y2="1169.48" stroke="#7c7c7c" stroke-width="2.2"/>
<rect x="856.4" y="1424.7" width="16.7" height="8.2" fill="#c0c0c0"/>
<rect x="874.3" y="1304.26" width="15.2" height="128.64" fill="#fa1a17"/>
<line x1="881.9" y1="1304.26" x2="881.9" y2="1287.86" stroke="#7c7c7c" stroke-width="2.2"/>
<line x1="876.9" y1="1287.86" x2="886.9" y2="1287.86" stroke="#7c7c7c" stroke-width="2.2"/>
<rect x="977.3" y="1111.56" width="16.7" height="321.34" fill="#c0c0c0"/>
<line x1="985.65" y1="1111.56" x2="985.65" y2="1063.39" stroke="#7c7c7c" stroke-width="2.2"/>
<line x1="980.65" y1="1063.39" x2="990.65" y2="1063.39" stroke="#7c7c7c" stroke-width="2.2"/>
<rect x="995.2" y="1142.31" width="15.2" height="290.59" fill="#fa1a17"/>
<line x1="1002.8" y1="1142.31" x2="1002.8" y2="1106.95" stroke="#7c7c7c" stroke-width="2.2"/>
<line x1="997.8" y1="1106.95" x2="1007.8" y2="1106.95" stroke="#7c7c7c" stroke-width="2.2"/>
<rect x="1017.6" y="1115.66" width="16.7" height="317.24" fill="#c0c0c0"/>
<line x1="1025.95" y1="1115.66" x2="1025.95" y2="1068" stroke="#7c7c7c" stroke-width="2.2"/>
<line x1="1020.95" y1="1068" x2="1030.95" y2="1068" stroke="#7c7c7c" stroke-width="2.2"/>
<rect x="1035.5" y="1149.49" width="15.2" height="283.41" fill="#fa1a17"/>
<line x1="1043.1" y1="1149.49" x2="1043.1" y2="1114.12" stroke="#7c7c7c" stroke-width="2.2"/>
<line x1="1038.1" y1="1114.12" x2="1048.1" y2="1114.12" stroke="#7c7c7c" stroke-width="2.2"/>
<rect x="1057.9" y="1092.6" width="16.7" height="340.3" fill="#c0c0c0"/>
<line x1="1066.25" y1="1092.6" x2="1066.25" y2="1041.35" stroke="#7c7c7c" stroke-width="2.2"/>
<line x1="1061.25" y1="1041.35" x2="1071.25" y2="1041.35" stroke="#7c7c7c" stroke-width="2.2"/>
<rect x="1075.8" y="1130.53" width="15.2" height="302.38" fill="#fa1a17"/>
<line x1="1083.4" y1="1130.53" x2="1083.4" y2="1093.62" stroke="#7c7c7c" stroke-width="2.2"/>
<line x1="1078.4" y1="1093.62" x2="1088.4" y2="1093.62" stroke="#7c7c7c" stroke-width="2.2"/>
<rect x="1098.2" y="1097.21" width="16.7" height="335.69" fill="#c0c0c0"/>
<line x1="1106.55" y1="1097.21" x2="1106.55" y2="1046.48" stroke="#7c7c7c" stroke-width="2.2"/>
<line x1="1101.55" y1="1046.48" x2="1111.55" y2="1046.48" stroke="#7c7c7c" stroke-width="2.2"/>
<rect x="1116.1" y="1134.62" width="15.2" height="298.28" fill="#fa1a17"/>
<line x1="1123.7" y1="1134.62" x2="1123.7" y2="1098.24" stroke="#7c7c7c" stroke-width="2.2"/>
<line x1="1118.7" y1="1098.24" x2="1128.7" y2="1098.24" stroke="#7c7c7c" stroke-width="2.2"/>
<rect x="1138.5" y="1106.95" width="16.7" height="325.95" fill="#c0c0c0"/>
<line x1="1146.85" y1="1106.95" x2="1146.85" y2="1057.24" stroke="#7c7c7c" stroke-width="2.2"/>
<line x1="1141.85" y1="1057.24" x2="1151.85" y2="1057.24" stroke="#7c7c7c" stroke-width="2.2"/>
<rect x="1156.4" y="1139.75" width="15.2" height="293.15" fill="#fa1a17"/>
<line x1="1164" y1="1139.75" x2="1164" y2="1103.88" stroke="#7c7c7c" stroke-width="2.2"/>
<line x1="1159" y1="1103.88" x2="1169" y2="1103.88" stroke="#7c7c7c" stroke-width="2.2"/>
<rect x="1178.8" y="1097.21" width="16.7" height="335.69" fill="#c0c0c0"/>
<line x1="1187.15" y1="1097.21" x2="1187.15" y2="1046.99" stroke="#7c7c7c" stroke-width="2.2"/>
<line x1="1182.15" y1="1046.99" x2="1192.15" y2="1046.99" stroke="#7c7c7c" stroke-width="2.2"/>
<rect x="1196.7" y="1103.88" width="15.2" height="329.03" fill="#fa1a17"/>
<line x1="1204.3" y1="1103.88" x2="1204.3" y2="1062.36" stroke="#7c7c7c" stroke-width="2.2"/>
<line x1="1199.3" y1="1062.36" x2="1209.3" y2="1062.36" stroke="#7c7c7c" stroke-width="2.2"/>
<rect x="1219.1" y="1175.62" width="16.7" height="257.28" fill="#c0c0c0"/>
<line x1="1227.45" y1="1175.62" x2="1227.45" y2="1137.19" stroke="#7c7c7c" stroke-width="2.2"/>
<line x1="1222.45" y1="1137.19" x2="1232.45" y2="1137.19" stroke="#7c7c7c" stroke-width="2.2"/>
<rect x="1237" y="1168.96" width="15.2" height="263.94" fill="#fa1a17"/>
<line x1="1244.6" y1="1168.96" x2="1244.6" y2="1135.65" stroke="#7c7c7c" stroke-width="2.2"/>
<line x1="1239.6" y1="1135.65" x2="1249.6" y2="1135.65" stroke="#7c7c7c" stroke-width="2.2"/>
<rect x="1299.7" y="1414.96" width="16.7" height="17.94" fill="#c0c0c0"/>
<line x1="1308.05" y1="1414.96" x2="1308.05" y2="1410.35" stroke="#7c7c7c" stroke-width="2.2"/>
<line x1="1303.05" y1="1410.35" x2="1313.05" y2="1410.35" stroke="#7c7c7c" stroke-width="2.2"/>
<rect x="1317.6" y="1409.33" width="15.2" height="23.57" fill="#fa1a17"/>
<line x1="1325.2" y1="1409.33" x2="1325.2" y2="1406.25" stroke="#7c7c7c" stroke-width="2.2"/>
<line x1="1320.2" y1="1406.25" x2="1330.2" y2="1406.25" stroke="#7c7c7c" stroke-width="2.2"/>
<rect x="1340" y="1365.25" width="16.7" height="67.65" fill="#c0c0c0"/>
<line x1="1348.35" y1="1365.25" x2="1348.35" y2="1353.98" stroke="#7c7c7c" stroke-width="2.2"/>
<line x1="1343.35" y1="1353.98" x2="1353.35" y2="1353.98" stroke="#7c7c7c" stroke-width="2.2"/>
<rect x="1357.9" y="1367.3" width="15.2" height="65.6" fill="#fa1a17"/>
<line x1="1365.5" y1="1367.3" x2="1365.5" y2="1357.56" stroke="#7c7c7c" stroke-width="2.2"/>
<line x1="1360.5" y1="1357.56" x2="1370.5" y2="1357.56" stroke="#7c7c7c" stroke-width="2.2"/>
<rect x="1380.3" y="1243.28" width="16.7" height="189.62" fill="#c0c0c0"/>
<line x1="1388.65" y1="1243.28" x2="1388.65" y2="1215.6" stroke="#7c7c7c" stroke-width="2.2"/>
<line x1="1383.65" y1="1215.6" x2="1393.65" y2="1215.6" stroke="#7c7c7c" stroke-width="2.2"/>
<rect x="1398.2" y="1303.24" width="15.2" height="129.66" fill="#fa1a17"/>
<line x1="1405.8" y1="1303.24" x2="1405.8" y2="1286.33" stroke="#7c7c7c" stroke-width="2.2"/>
<line x1="1400.8" y1="1286.33" x2="1410.8" y2="1286.33" stroke="#7c7c7c" stroke-width="2.2"/>
<rect x="1420.6" y="1134.11" width="16.7" height="298.79" fill="#c0c0c0"/>
<line x1="1428.95" y1="1134.11" x2="1428.95" y2="1091.58" stroke="#7c7c7c" stroke-width="2.2"/>
<line x1="1423.95" y1="1091.58" x2="1433.95" y2="1091.58" stroke="#7c7c7c" stroke-width="2.2"/>
<rect x="1438.5" y="1246.35" width="15.2" height="186.55" fill="#fa1a17"/>
<line x1="1446.1" y1="1246.35" x2="1446.1" y2="1223.8" stroke="#7c7c7c" stroke-width="2.2"/>
<line x1="1441.1" y1="1223.8" x2="1451.1" y2="1223.8" stroke="#7c7c7c" stroke-width="2.2"/>
<rect x="1460.9" y="1099.26" width="16.7" height="333.64" fill="#c0c0c0"/>
<line x1="1469.25" y1="1099.26" x2="1469.25" y2="1051.6" stroke="#7c7c7c" stroke-width="2.2"/>
<line x1="1464.25" y1="1051.6" x2="1474.25" y2="1051.6" stroke="#7c7c7c" stroke-width="2.2"/>
<rect x="1478.8" y="1221.75" width="15.2" height="211.15" fill="#fa1a17"/>
<line x1="1486.4" y1="1221.75" x2="1486.4" y2="1196.12" stroke="#7c7c7c" stroke-width="2.2"/>
<line x1="1481.4" y1="1196.12" x2="1491.4" y2="1196.12" stroke="#7c7c7c" stroke-width="2.2"/>
<rect x="1501.2" y="1082.35" width="16.7" height="350.55" fill="#c0c0c0"/>
<line x1="1509.55" y1="1082.35" x2="1509.55" y2="1032.64" stroke="#7c7c7c" stroke-width="2.2"/>
<line x1="1504.55" y1="1032.64" x2="1514.55" y2="1032.64" stroke="#7c7c7c" stroke-width="2.2"/>
<rect x="1519.1" y="1204.33" width="15.2" height="228.58" fill="#fa1a17"/>
<line x1="1526.7" y1="1204.33" x2="1526.7" y2="1177.16" stroke="#7c7c7c" stroke-width="2.2"/>
<line x1="1521.7" y1="1177.16" x2="1531.7" y2="1177.16" stroke="#7c7c7c" stroke-width="2.2"/>
<rect x="1541.5" y="1071.59" width="16.7" height="361.31" fill="#c0c0c0"/>
<line x1="1549.85" y1="1071.59" x2="1549.85" y2="1020.34" stroke="#7c7c7c" stroke-width="2.2"/>
<line x1="1544.85" y1="1020.34" x2="1554.85" y2="1020.34" stroke="#7c7c7c" stroke-width="2.2"/>
<rect x="1559.4" y="1176.65" width="15.2" height="256.25" fill="#fa1a17"/>
<line x1="1567" y1="1176.65" x2="1567" y2="1144.88" stroke="#7c7c7c" stroke-width="2.2"/>
<line x1="1562" y1="1144.88" x2="1572" y2="1144.88" stroke="#7c7c7c" stroke-width="2.2"/>
<rect x="1622.1" y="1256.09" width="16.7" height="176.81" fill="#c0c0c0"/>
<line x1="1630.45" y1="1256.09" x2="1630.45" y2="1228.41" stroke="#7c7c7c" stroke-width="2.2"/>
<line x1="1625.45" y1="1228.41" x2="1635.45" y2="1228.41" stroke="#7c7c7c" stroke-width="2.2"/>
<rect x="1640" y="1258.14" width="15.2" height="174.76" fill="#fa1a17"/>
<line x1="1647.6" y1="1258.14" x2="1647.6" y2="1234.56" stroke="#7c7c7c" stroke-width="2.2"/>
<line x1="1642.6" y1="1234.56" x2="1652.6" y2="1234.56" stroke="#7c7c7c" stroke-width="2.2"/>
<rect x="1662.4" y="1124.89" width="16.7" height="308.01" fill="#c0c0c0"/>
<line x1="1670.75" y1="1124.89" x2="1670.75" y2="1079.28" stroke="#7c7c7c" stroke-width="2.2"/>
<line x1="1665.75" y1="1079.28" x2="1675.75" y2="1079.28" stroke="#7c7c7c" stroke-width="2.2"/>
<rect x="1680.3" y="1123.86" width="15.2" height="309.04" fill="#fa1a17"/>
<line x1="1687.9" y1="1123.86" x2="1687.9" y2="1084.4" stroke="#7c7c7c" stroke-width="2.2"/>
<line x1="1682.9" y1="1084.4" x2="1692.9" y2="1084.4" stroke="#7c7c7c" stroke-width="2.2"/>
<rect x="1702.7" y="1078.25" width="16.7" height="354.65" fill="#c0c0c0"/>
<line x1="1711.05" y1="1078.25" x2="1711.05" y2="1025.98" stroke="#7c7c7c" stroke-width="2.2"/>
<line x1="1706.05" y1="1025.98" x2="1716.05" y2="1025.98" stroke="#7c7c7c" stroke-width="2.2"/>
<rect x="1720.6" y="1072.61" width="15.2" height="360.29" fill="#fa1a17"/>
<line x1="1728.2" y1="1072.61" x2="1728.2" y2="1027" stroke="#7c7c7c" stroke-width="2.2"/>
<line x1="1723.2" y1="1027" x2="1733.2" y2="1027" stroke="#7c7c7c" stroke-width="2.2"/>
<rect x="1743" y="1112.08" width="16.7" height="320.82" fill="#c0c0c0"/>
<line x1="1751.35" y1="1112.08" x2="1751.35" y2="1065.95" stroke="#7c7c7c" stroke-width="2.2"/>
<line x1="1746.35" y1="1065.95" x2="1756.35" y2="1065.95" stroke="#7c7c7c" stroke-width="2.2"/>
<rect x="1760.9" y="1114.64" width="15.2" height="318.26" fill="#fa1a17"/>
<line x1="1768.5" y1="1114.64" x2="1768.5" y2="1073.64" stroke="#7c7c7c" stroke-width="2.2"/>
<line x1="1763.5" y1="1073.64" x2="1773.5" y2="1073.64" stroke="#7c7c7c" stroke-width="2.2"/>
<rect x="1823.6" y="1391.9" width="16.7" height="41" fill="#c0c0c0"/>
<line x1="1831.95" y1="1391.9" x2="1831.95" y2="1383.7" stroke="#7c7c7c" stroke-width="2.2"/>
<line x1="1826.95" y1="1383.7" x2="1836.95" y2="1383.7" stroke="#7c7c7c" stroke-width="2.2"/>
<rect x="1841.5" y="1382.68" width="15.2" height="50.23" fill="#fa1a17"/>
<line x1="1849.1" y1="1382.68" x2="1849.1" y2="1374.99" stroke="#7c7c7c" stroke-width="2.2"/>
<line x1="1844.1" y1="1374.99" x2="1854.1" y2="1374.99" stroke="#7c7c7c" stroke-width="2.2"/>
<rect x="1863.9" y="1134.62" width="16.7" height="298.28" fill="#c0c0c0"/>
<line x1="1872.25" y1="1134.62" x2="1872.25" y2="1090.04" stroke="#7c7c7c" stroke-width="2.2"/>
<line x1="1867.25" y1="1090.04" x2="1877.25" y2="1090.04" stroke="#7c7c7c" stroke-width="2.2"/>
<rect x="1881.8" y="1130.53" width="15.2" height="302.38" fill="#fa1a17"/>
<line x1="1889.4" y1="1130.53" x2="1889.4" y2="1094.65" stroke="#7c7c7c" stroke-width="2.2"/>
<line x1="1884.4" y1="1094.65" x2="1894.4" y2="1094.65" stroke="#7c7c7c" stroke-width="2.2"/>
<rect x="1904.2" y="1080.3" width="16.7" height="352.6" fill="#c0c0c0"/>
<line x1="1912.55" y1="1080.3" x2="1912.55" y2="1027.51" stroke="#7c7c7c" stroke-width="2.2"/>
<line x1="1907.55" y1="1027.51" x2="1917.55" y2="1027.51" stroke="#7c7c7c" stroke-width="2.2"/>
<rect x="1922.1" y="1073.64" width="15.2" height="359.26" fill="#fa1a17"/>
<line x1="1929.7" y1="1073.64" x2="1929.7" y2="1031.61" stroke="#7c7c7c" stroke-width="2.2"/>
<line x1="1924.7" y1="1031.61" x2="1934.7" y2="1031.61" stroke="#7c7c7c" stroke-width="2.2"/>
<rect x="1944.5" y="1065.44" width="16.7" height="367.46" fill="#c0c0c0"/>
<line x1="1952.85" y1="1065.44" x2="1952.85" y2="1010.09" stroke="#7c7c7c" stroke-width="2.2"/>
<line x1="1947.85" y1="1010.09" x2="1957.85" y2="1010.09" stroke="#7c7c7c" stroke-width="2.2"/>
<rect x="1962.4" y="1056.21" width="15.2" height="376.69" fill="#fa1a17"/>
<line x1="1970" y1="1056.21" x2="1970" y2="1011.62" stroke="#7c7c7c" stroke-width="2.2"/>
<line x1="1965" y1="1011.62" x2="1975" y2="1011.62" stroke="#7c7c7c" stroke-width="2.2"/>
<rect x="1984.8" y="1062.88" width="16.7" height="370.03" fill="#c0c0c0"/>
<line x1="1993.15" y1="1062.88" x2="1993.15" y2="1008.04" stroke="#7c7c7c" stroke-width="2.2"/>
<line x1="1988.15" y1="1008.04" x2="1998.15" y2="1008.04" stroke="#7c7c7c" stroke-width="2.2"/>
<rect x="2002.7" y="1051.09" width="15.2" height="381.81" fill="#fa1a17"/>
<line x1="2010.3" y1="1051.09" x2="2010.3" y2="1005.99" stroke="#7c7c7c" stroke-width="2.2"/>
<line x1="2005.3" y1="1005.99" x2="2015.3" y2="1005.99" stroke="#7c7c7c" stroke-width="2.2"/>
<rect x="2025.1" y="1183.31" width="16.7" height="249.59" fill="#c0c0c0"/>
<line x1="2033.45" y1="1183.31" x2="2033.45" y2="1136.16" stroke="#7c7c7c" stroke-width="2.2"/>
<line x1="2028.45" y1="1136.16" x2="2038.45" y2="1136.16" stroke="#7c7c7c" stroke-width="2.2"/>
<rect x="2043" y="1167.94" width="15.2" height="264.96" fill="#fa1a17"/>
<line x1="2050.6" y1="1167.94" x2="2050.6" y2="1131.55" stroke="#7c7c7c" stroke-width="2.2"/>
<line x1="2045.6" y1="1131.55" x2="2055.6" y2="1131.55" stroke="#7c7c7c" stroke-width="2.2"/>
<rect x="2065.4" y="1229.95" width="16.7" height="202.95" fill="#c0c0c0"/>
<line x1="2073.75" y1="1229.95" x2="2073.75" y2="1188.95" stroke="#7c7c7c" stroke-width="2.2"/>
<line x1="2068.75" y1="1188.95" x2="2078.75" y2="1188.95" stroke="#7c7c7c" stroke-width="2.2"/>
<rect x="2083.3" y="1207.91" width="15.2" height="224.99" fill="#fa1a17"/>
<line x1="2090.9" y1="1207.91" x2="2090.9" y2="1175.11" stroke="#7c7c7c" stroke-width="2.2"/>
<line x1="2085.9" y1="1175.11" x2="2095.9" y2="1175.11" stroke="#7c7c7c" stroke-width="2.2"/>
<rect x="2105.7" y="1305.29" width="16.7" height="127.61" fill="#c0c0c0"/>
<line x1="2114.05" y1="1305.29" x2="2114.05" y2="1278.64" stroke="#7c7c7c" stroke-width="2.2"/>
<line x1="2109.05" y1="1278.64" x2="2119.05" y2="1278.64" stroke="#7c7c7c" stroke-width="2.2"/>
<rect x="2123.6" y="1275.56" width="15.2" height="157.34" fill="#fa1a17"/>
<line x1="2131.2" y1="1275.56" x2="2131.2" y2="1254.04" stroke="#7c7c7c" stroke-width="2.2"/>
<line x1="2126.2" y1="1254.04" x2="2136.2" y2="1254.04" stroke="#7c7c7c" stroke-width="2.2"/>
<circle cx="254.45" cy="1432.9" r="2.3" fill="#000"/>
<circle cx="260.25" cy="1432.9" r="2.3" fill="#000"/>
<circle cx="266.05" cy="1432.9" r="2.3" fill="#000"/>
<circle cx="271.6" cy="1431.36" r="2.3" fill="#000"/>
<circle cx="277.4" cy="1431.36" r="2.3" fill="#000"/>
<circle cx="283.2" cy="1431.36" r="2.3" fill="#000"/>
<circle cx="294.75" cy="1432.9" r="2.3" fill="#000"/>
<circle cx="300.55" cy="1432.9" r="2.3" fill="#000"/>
<circle cx="306.35" cy="1432.9" r="2.3" fill="#000"/>
<circle cx="317.7" cy="1291.96" r="2.3" fill="#000"/>
<circle cx="317.7" cy="1258.14" r="2.3" fill="#000"/>
<circle cx="317.7" cy="1241.74" r="2.3" fill="#000"/>
<circle cx="335.05" cy="1432.9" r="2.3" fill="#000"/>
<circle cx="340.85" cy="1432.9" r="2.3" fill="#000"/>
<circle cx="346.65" cy="1432.9" r="2.3" fill="#000"/>
<circle cx="352.2" cy="1426.75" r="2.3" fill="#000"/>
<circle cx="358" cy="1425.73" r="2.3" fill="#000"/>
<circle cx="363.8" cy="1425.21" r="2.3" fill="#000"/>
<circle cx="415.65" cy="1432.9" r="2.3" fill="#000"/>
<circle cx="421.45" cy="1432.9" r="2.3" fill="#000"/>
<circle cx="427.25" cy="1432.9" r="2.3" fill="#000"/>
<circle cx="432.8" cy="1431.36" r="2.3" fill="#000"/>
<circle cx="438.6" cy="1431.36" r="2.3" fill="#000"/>
<circle cx="444.4" cy="1431.36" r="2.3" fill="#000"/>
<circle cx="455.95" cy="1429.83" r="2.3" fill="#000"/>
<circle cx="461.75" cy="1428.8" r="2.3" fill="#000"/>
<circle cx="467.55" cy="1427.78" r="2.3" fill="#000"/>
<circle cx="478.9" cy="1246.86" r="2.3" fill="#000"/>
<circle cx="478.9" cy="1215.6" r="2.3" fill="#000"/>
<circle cx="478.9" cy="1200.23" r="2.3" fill="#000"/>
<circle cx="496.25" cy="1432.9" r="2.3" fill="#000"/>
<circle cx="502.05" cy="1432.9" r="2.3" fill="#000"/>
<circle cx="507.85" cy="1432.9" r="2.3" fill="#000"/>
<circle cx="513.4" cy="1432.9" r="2.3" fill="#000"/>
<circle cx="519.2" cy="1432.9" r="2.3" fill="#000"/>
<circle cx="525" cy="1432.9" r="2.3" fill="#000"/>
<circle cx="576.85" cy="1432.9" r="2.3" fill="#000"/>
<circle cx="582.65" cy="1432.9" r="2.3" fill="#000"/>
<circle cx="588.45" cy="1432.9" r="2.3" fill="#000"/>
<circle cx="599.8" cy="1416.5" r="2.3" fill="#000"/>
<circle cx="596.9" cy="1413.43" r="2.3" fill="#000"/>
<circle cx="602.7" cy="1411.89" r="2.3" fill="#000"/>
<circle cx="617.15" cy="1428.8" r="2.3" fill="#000"/>
<circle cx="622.95" cy="1427.26" r="2.3" fill="#000"/>
<circle cx="628.75" cy="1425.21" r="2.3" fill="#000"/>
<circle cx="640.1" cy="1245.33" r="2.3" fill="#000"/>
<circle cx="640.1" cy="1209.45" r="2.3" fill="#000"/>
<circle cx="640.1" cy="1192.03" r="2.3" fill="#000"/>
<circle cx="657.45" cy="1431.88" r="2.3" fill="#000"/>
<circle cx="663.25" cy="1431.88" r="2.3" fill="#000"/>
<circle cx="669.05" cy="1431.88" r="2.3" fill="#000"/>
<circle cx="680.4" cy="1403.69" r="2.3" fill="#000"/>
<circle cx="677.5" cy="1398.05" r="2.3" fill="#000"/>
<circle cx="683.3" cy="1396" r="2.3" fill="#000"/>
<circle cx="738.05" cy="1432.9" r="2.3" fill="#000"/>
<circle cx="743.85" cy="1432.9" r="2.3" fill="#000"/>
<circle cx="749.65" cy="1432.9" r="2.3" fill="#000"/>
<circle cx="755.2" cy="1431.36" r="2.3" fill="#000"/>
<circle cx="761" cy="1431.36" r="2.3" fill="#000"/>
<circle cx="766.8" cy="1431.36" r="2.3" fill="#000"/>
<circle cx="778.35" cy="1432.39" r="2.3" fill="#000"/>
<circle cx="784.15" cy="1432.39" r="2.3" fill="#000"/>
<circle cx="789.95" cy="1432.39" r="2.3" fill="#000"/>
<circle cx="801.3" cy="1421.62" r="2.3" fill="#000"/>
<circle cx="798.4" cy="1419.06" r="2.3" fill="#000"/>
<circle cx="804.2" cy="1418.04" r="2.3" fill="#000"/>
<circle cx="821.55" cy="1420.6" r="2.3" fill="#000"/>
<circle cx="827.35" cy="1418.55" r="2.3" fill="#000"/>
<circle cx="824.45" cy="1415.99" r="2.3" fill="#000"/>
<circle cx="841.6" cy="1228.41" r="2.3" fill="#000"/>
<circle cx="841.6" cy="1192.03" r="2.3" fill="#000"/>
<circle cx="841.6" cy="1172.55" r="2.3" fill="#000"/>
<circle cx="858.95" cy="1425.73" r="2.3" fill="#000"/>
<circle cx="864.75" cy="1424.19" r="2.3" fill="#000"/>
<circle cx="870.55" cy="1422.65" r="2.3" fill="#000"/>
<circle cx="881.9" cy="1320.66" r="2.3" fill="#000"/>
<circle cx="881.9" cy="1300.16" r="2.3" fill="#000"/>
<circle cx="881.9" cy="1290.43" r="2.3" fill="#000"/>
<circle cx="985.65" cy="1145.9" r="2.3" fill="#000"/>
<circle cx="985.65" cy="1130.53" r="2.3" fill="#000"/>
<circle cx="985.65" cy="1056.73" r="2.3" fill="#000"/>
<circle cx="1002.8" cy="1180.75" r="2.3" fill="#000"/>
<circle cx="1002.8" cy="1134.11" r="2.3" fill="#000"/>
<circle cx="1002.8" cy="1112.08" r="2.3" fill="#000"/>
<circle cx="1025.95" cy="1150" r="2.3" fill="#000"/>
<circle cx="1025.95" cy="1134.11" r="2.3" fill="#000"/>
<circle cx="1025.95" cy="1062.36" r="2.3" fill="#000"/>
<circle cx="1043.1" cy="1186.39" r="2.3" fill="#000"/>
<circle cx="1043.1" cy="1140.78" r="2.3" fill="#000"/>
<circle cx="1043.1" cy="1119.25" r="2.3" fill="#000"/>
<circle cx="1066.25" cy="1128.99" r="2.3" fill="#000"/>
<circle cx="1066.25" cy="1112.08" r="2.3" fill="#000"/>
<circle cx="1066.25" cy="1034.18" r="2.3" fill="#000"/>
<circle cx="1083.4" cy="1169.48" r="2.3" fill="#000"/>
<circle cx="1083.4" cy="1121.81" r="2.3" fill="#000"/>
<circle cx="1083.4" cy="1098.24" r="2.3" fill="#000"/>
<circle cx="1106.55" cy="1133.09" r="2.3" fill="#000"/>
<circle cx="1106.55" cy="1116.69" r="2.3" fill="#000"/>
<circle cx="1106.55" cy="1040.84" r="2.3" fill="#000"/>
<circle cx="1123.7" cy="1173.06" r="2.3" fill="#000"/>
<circle cx="1123.7" cy="1126.43" r="2.3" fill="#000"/>
<circle cx="1123.7" cy="1102.85" r="2.3" fill="#000"/>
<circle cx="1146.85" cy="1142.31" r="2.3" fill="#000"/>
<circle cx="1146.85" cy="1125.4" r="2.3" fill="#000"/>
<circle cx="1146.85" cy="1051.09" r="2.3" fill="#000"/>
<circle cx="1164" cy="1177.68" r="2.3" fill="#000"/>
<circle cx="1164" cy="1131.55" r="2.3" fill="#000"/>
<circle cx="1164" cy="1109" r="2.3" fill="#000"/>
<circle cx="1187.15" cy="1134.62" r="2.3" fill="#000"/>
<circle cx="1187.15" cy="1116.18" r="2.3" fill="#000"/>
<circle cx="1187.15" cy="1040.33" r="2.3" fill="#000"/>
<circle cx="1204.3" cy="1147.95" r="2.3" fill="#000"/>
<circle cx="1204.3" cy="1094.14" r="2.3" fill="#000"/>
<circle cx="1204.3" cy="1067.49" r="2.3" fill="#000"/>
<circle cx="1227.45" cy="1203.81" r="2.3" fill="#000"/>
<circle cx="1227.45" cy="1189.98" r="2.3" fill="#000"/>
<circle cx="1227.45" cy="1132.58" r="2.3" fill="#000"/>
<circle cx="1244.6" cy="1203.81" r="2.3" fill="#000"/>
<circle cx="1244.6" cy="1160.76" r="2.3" fill="#000"/>
<circle cx="1244.6" cy="1140.26" r="2.3" fill="#000"/>
<circle cx="1308.05" cy="1419.06" r="2.3" fill="#000"/>
<circle cx="1308.05" cy="1414.45" r="2.3" fill="#000"/>
<circle cx="1308.05" cy="1410.86" r="2.3" fill="#000"/>
<circle cx="1325.2" cy="1413.43" r="2.3" fill="#000"/>
<circle cx="1322.3" cy="1407.79" r="2.3" fill="#000"/>
<circle cx="1328.1" cy="1405.74" r="2.3" fill="#000"/>
<circle cx="1348.35" cy="1370.89" r="2.3" fill="#000"/>
<circle cx="1348.35" cy="1368.33" r="2.3" fill="#000"/>
<circle cx="1348.35" cy="1353.46" r="2.3" fill="#000"/>
<circle cx="1365.5" cy="1374.99" r="2.3" fill="#000"/>
<circle cx="1365.5" cy="1365.25" r="2.3" fill="#000"/>
<circle cx="1365.5" cy="1358.08" r="2.3" fill="#000"/>
<circle cx="1388.65" cy="1262.24" r="2.3" fill="#000"/>
<circle cx="1388.65" cy="1251.99" r="2.3" fill="#000"/>
<circle cx="1388.65" cy="1212.53" r="2.3" fill="#000"/>
<circle cx="1405.8" cy="1319.64" r="2.3" fill="#000"/>
<circle cx="1405.8" cy="1299.65" r="2.3" fill="#000"/>
<circle cx="1405.8" cy="1289.4" r="2.3" fill="#000"/>
<circle cx="1428.95" cy="1164.86" r="2.3" fill="#000"/>
<circle cx="1428.95" cy="1149.49" r="2.3" fill="#000"/>
<circle cx="1428.95" cy="1086.45" r="2.3" fill="#000"/>
<circle cx="1446.1" cy="1269.93" r="2.3" fill="#000"/>
<circle cx="1446.1" cy="1241.23" r="2.3" fill="#000"/>
<circle cx="1446.1" cy="1225.85" r="2.3" fill="#000"/>
<circle cx="1469.25" cy="1134.11" r="2.3" fill="#000"/>
<circle cx="1469.25" cy="1116.18" r="2.3" fill="#000"/>
<circle cx="1469.25" cy="1045.45" r="2.3" fill="#000"/>
<circle cx="1486.4" cy="1248.91" r="2.3" fill="#000"/>
<circle cx="1486.4" cy="1215.6" r="2.3" fill="#000"/>
<circle cx="1486.4" cy="1199.2" r="2.3" fill="#000"/>
<circle cx="1509.55" cy="1119.25" r="2.3" fill="#000"/>
<circle cx="1509.55" cy="1100.8" r="2.3" fill="#000"/>
<circle cx="1509.55" cy="1025.98" r="2.3" fill="#000"/>
<circle cx="1526.7" cy="1233.03" r="2.3" fill="#000"/>
<circle cx="1526.7" cy="1197.15" r="2.3" fill="#000"/>
<circle cx="1526.7" cy="1180.24" r="2.3" fill="#000"/>
<circle cx="1549.85" cy="1109.51" r="2.3" fill="#000"/>
<circle cx="1549.85" cy="1091.06" r="2.3" fill="#000"/>
<circle cx="1549.85" cy="1013.68" r="2.3" fill="#000"/>
<circle cx="1567" cy="1207.91" r="2.3" fill="#000"/>
<circle cx="1567" cy="1168.96" r="2.3" fill="#000"/>
<circle cx="1567" cy="1149.49" r="2.3" fill="#000"/>
<circle cx="1630.45" cy="1274.54" r="2.3" fill="#000"/>
<circle cx="1630.45" cy="1266.85" r="2.3" fill="#000"/>
<circle cx="1630.45" cy="1224.83" r="2.3" fill="#000"/>
<circle cx="1647.6" cy="1282.74" r="2.3" fill="#000"/>
<circle cx="1647.6" cy="1253.01" r="2.3" fill="#000"/>
<circle cx="1647.6" cy="1237.64" r="2.3" fill="#000"/>
<circle cx="1670.75" cy="1156.15" r="2.3" fill="#000"/>
<circle cx="1670.75" cy="1143.85" r="2.3" fill="#000"/>
<circle cx="1670.75" cy="1072.61" r="2.3" fill="#000"/>
<circle cx="1687.9" cy="1164.86" r="2.3" fill="#000"/>
<circle cx="1687.9" cy="1115.15" r="2.3" fill="#000"/>
<circle cx="1687.9" cy="1089.01" r="2.3" fill="#000"/>
<circle cx="1711.05" cy="1113.1" r="2.3" fill="#000"/>
<circle cx="1711.05" cy="1100.8" r="2.3" fill="#000"/>
<circle cx="1711.05" cy="1018.29" r="2.3" fill="#000"/>
<circle cx="1728.2" cy="1122.33" r="2.3" fill="#000"/>
<circle cx="1728.2" cy="1062.88" r="2.3" fill="#000"/>
<circle cx="1728.2" cy="1033.15" r="2.3" fill="#000"/>
<circle cx="1751.35" cy="1143.85" r="2.3" fill="#000"/>
<circle cx="1751.35" cy="1132.06" r="2.3" fill="#000"/>
<circle cx="1751.35" cy="1059.8" r="2.3" fill="#000"/>
<circle cx="1768.5" cy="1157.69" r="2.3" fill="#000"/>
<circle cx="1768.5" cy="1105.41" r="2.3" fill="#000"/>
<circle cx="1768.5" cy="1078.25" r="2.3" fill="#000"/>
<circle cx="1831.95" cy="1396.51" r="2.3" fill="#000"/>
<circle cx="1831.95" cy="1393.95" r="2.3" fill="#000"/>
<circle cx="1831.95" cy="1383.7" r="2.3" fill="#000"/>
<circle cx="1849.1" cy="1388.83" r="2.3" fill="#000"/>
<circle cx="1849.1" cy="1380.11" r="2.3" fill="#000"/>
<circle cx="1849.1" cy="1375.5" r="2.3" fill="#000"/>
<circle cx="1872.25" cy="1166.91" r="2.3" fill="#000"/>
<circle cx="1872.25" cy="1152.05" r="2.3" fill="#000"/>
<circle cx="1872.25" cy="1083.89" r="2.3" fill="#000"/>
<circle cx="1889.4" cy="1167.94" r="2.3" fill="#000"/>
<circle cx="1889.4" cy="1124.38" r="2.3" fill="#000"/>
<circle cx="1889.4" cy="1097.21" r="2.3" fill="#000"/>
<circle cx="1912.55" cy="1117.71" r="2.3" fill="#000"/>
<circle cx="1912.55" cy="1101.31" r="2.3" fill="#000"/>
<circle cx="1912.55" cy="1020.34" r="2.3" fill="#000"/>
<circle cx="1929.7" cy="1118.23" r="2.3" fill="#000"/>
<circle cx="1929.7" cy="1065.44" r="2.3" fill="#000"/>
<circle cx="1929.7" cy="1035.71" r="2.3" fill="#000"/>
<circle cx="1952.85" cy="1104.39" r="2.3" fill="#000"/>
<circle cx="1952.85" cy="1086.96" r="2.3" fill="#000"/>
<circle cx="1952.85" cy="1002.4" r="2.3" fill="#000"/>
<circle cx="1970" cy="1103.36" r="2.3" fill="#000"/>
<circle cx="1970" cy="1048.53" r="2.3" fill="#000"/>
<circle cx="1970" cy="1015.73" r="2.3" fill="#000"/>
<circle cx="1993.15" cy="1101.31" r="2.3" fill="#000"/>
<circle cx="1993.15" cy="1084.91" r="2.3" fill="#000"/>
<circle cx="1993.15" cy="1000.86" r="2.3" fill="#000"/>
<circle cx="2010.3" cy="1098.24" r="2.3" fill="#000"/>
<circle cx="2010.3" cy="1042.38" r="2.3" fill="#000"/>
<circle cx="2010.3" cy="1010.09" r="2.3" fill="#000"/>
<circle cx="2033.45" cy="1215.6" r="2.3" fill="#000"/>
<circle cx="2033.45" cy="1203.3" r="2.3" fill="#000"/>
<circle cx="2033.45" cy="1130.01" r="2.3" fill="#000"/>
<circle cx="2050.6" cy="1205.86" r="2.3" fill="#000"/>
<circle cx="2050.6" cy="1160.76" r="2.3" fill="#000"/>
<circle cx="2050.6" cy="1134.62" r="2.3" fill="#000"/>
<circle cx="2073.75" cy="1258.14" r="2.3" fill="#000"/>
<circle cx="2073.75" cy="1247.38" r="2.3" fill="#000"/>
<circle cx="2073.75" cy="1183.83" r="2.3" fill="#000"/>
<circle cx="2090.9" cy="1241.23" r="2.3" fill="#000"/>
<circle cx="2090.9" cy="1201.76" r="2.3" fill="#000"/>
<circle cx="2090.9" cy="1178.19" r="2.3" fill="#000"/>
<circle cx="2114.05" cy="1323.23" r="2.3" fill="#000"/>
<circle cx="2114.05" cy="1315.54" r="2.3" fill="#000"/>
<circle cx="2114.05" cy="1274.54" r="2.3" fill="#000"/>
<circle cx="2131.2" cy="1298.62" r="2.3" fill="#000"/>
<circle cx="2131.2" cy="1271.98" r="2.3" fill="#000"/>
<circle cx="2131.2" cy="1255.58" r="2.3" fill="#000"/>
<line x1="242.3" y1="919.1" x2="242.3" y2="1434.2" stroke="#000" stroke-width="2.6"/>
<line x1="222" y1="1432.9" x2="2147" y2="1432.9" stroke="#000" stroke-width="2.6"/>
<line x1="222" y1="1330.4" x2="242.3" y2="1330.4" stroke="#000" stroke-width="2.6"/>
<line x1="222" y1="1227.9" x2="242.3" y2="1227.9" stroke="#000" stroke-width="2.6"/>
<line x1="222" y1="1125.4" x2="242.3" y2="1125.4" stroke="#000" stroke-width="2.6"/>
<line x1="222" y1="1022.9" x2="242.3" y2="1022.9" stroke="#000" stroke-width="2.6"/>
<line x1="222" y1="920.4" x2="242.3" y2="920.4" stroke="#000" stroke-width="2.6"/>
<text x="198.2" y="1446.14" font-size="38.2" text-anchor="start" fill="#000">0</text>
<text x="176.95" y="1343.64" font-size="38.2" text-anchor="start" fill="#000">20</text>
<text x="176.95" y="1241.14" font-size="38.2" text-anchor="start" fill="#000">40</text>
<text x="176.95" y="1138.64" font-size="38.2" text-anchor="start" fill="#000">60</text>
<text x="176.95" y="1036.14" font-size="38.2" text-anchor="start" fill="#000">80</text>
<text x="155.7" y="933.65" font-size="38.2" text-anchor="start" fill="#000">100</text>
<text transform="translate(100.3,1425.88) rotate(-90)" font-size="38.1" text-anchor="start" fill="#000">Percentage of total reads with</text>
<text transform="translate(144.3,1352.57) rotate(-90)" font-size="38.1" text-anchor="start" fill="#000">C to T conversion (%)</text>
<text transform="translate(279.5,1442.9) rotate(-90)" font-size="35.3" text-anchor="end" fill="#000">C5</text>
<text transform="translate(319.8,1442.9) rotate(-90)" font-size="35.3" text-anchor="end" fill="#000">C9</text>
<text transform="translate(360.1,1442.9) rotate(-90)" font-size="35.3" text-anchor="end" fill="#000">C14</text>
<text transform="translate(440.7,1442.9) rotate(-90)" font-size="35.3" text-anchor="end" fill="#000">C5</text>
<text transform="translate(481,1442.9) rotate(-90)" font-size="35.3" text-anchor="end" fill="#000">C8</text>
<text transform="translate(521.3,1442.9) rotate(-90)" font-size="35.3" text-anchor="end" fill="#000">C16</text>
<text transform="translate(601.9,1442.9) rotate(-90)" font-size="35.3" text-anchor="end" fill="#000">C11</text>
<text transform="translate(642.2,1442.9) rotate(-90)" font-size="35.3" text-anchor="end" fill="#000">C14</text>
<text transform="translate(682.5,1442.9) rotate(-90)" font-size="35.3" text-anchor="end" fill="#000">C15</text>
<text transform="translate(763.1,1442.9) rotate(-90)" font-size="35.3" text-anchor="end" fill="#000">C6</text>
<text transform="translate(803.4,1442.9) rotate(-90)" font-size="35.3" text-anchor="end" fill="#000">C12</text>
<text transform="translate(843.7,1442.9) rotate(-90)" font-size="35.3" text-anchor="end" fill="#000">C14</text>
<text transform="translate(884,1442.9) rotate(-90)" font-size="35.3" text-anchor="end" fill="#000">C15</text>
<text transform="translate(1004.9,1442.9) rotate(-90)" font-size="35.3" text-anchor="end" fill="#000">C6</text>
<text transform="translate(1045.2,1442.9) rotate(-90)" font-size="35.3" text-anchor="end" fill="#000">C7</text>
<text transform="translate(1085.5,1442.9) rotate(-90)" font-size="35.3" text-anchor="end" fill="#000">C8</text>
<text transform="translate(1125.8,1442.9) rotate(-90)" font-size="35.3" text-anchor="end" fill="#000">C9</text>
<text transform="translate(1166.1,1442.9) rotate(-90)" font-size="35.3" text-anchor="end" fill="#000">C10</text>
<text transform="translate(1206.4,1442.9) rotate(-90)" font-size="35.3" text-anchor="end" fill="#000">C13</text>
<text transform="translate(1246.7,1442.9) rotate(-90)" font-size="35.3" text-anchor="end" fill="#000">C14</text>
<text transform="translate(1327.3,1442.9) rotate(-90)" font-size="35.3" text-anchor="end" fill="#000">C5</text>
<text transform="translate(1367.6,1442.9) rotate(-90)" font-size="35.3" text-anchor="end" fill="#000">C6</text>
<text transform="translate(1407.9,1442.9) rotate(-90)" font-size="35.3" text-anchor="end" fill="#000">C7</text>
<text transform="translate(1448.2,1442.9) rotate(-90)" font-size="35.3" text-anchor="end" fill="#000">C8</text>
<text transform="translate(1488.5,1442.9) rotate(-90)" font-size="35.3" text-anchor="end" fill="#000">C9</text>
<text transform="translate(1528.8,1442.9) rotate(-90)" font-size="35.3" text-anchor="end" fill="#000">C10</text>
<text transform="translate(1569.1,1442.9) rotate(-90)" font-size="35.3" text-anchor="end" fill="#000">C12</text>
<text transform="translate(1649.7,1442.9) rotate(-90)" font-size="35.3" text-anchor="end" fill="#000">C6</text>
<text transform="translate(1690,1442.9) rotate(-90)" font-size="35.3" text-anchor="end" fill="#000">C7</text>
<text transform="translate(1730.3,1442.9) rotate(-90)" font-size="35.3" text-anchor="end" fill="#000">C9</text>
<text transform="translate(1770.6,1442.9) rotate(-90)" font-size="35.3" text-anchor="end" fill="#000">C11</text>
<text transform="translate(1851.2,1442.9) rotate(-90)" font-size="35.3" text-anchor="end" fill="#000">C6</text>
<text transform="translate(1891.5,1442.9) rotate(-90)" font-size="35.3" text-anchor="end" fill="#000">C8</text>
<text transform="translate(1931.8,1442.9) rotate(-90)" font-size="35.3" text-anchor="end" fill="#000">C9</text>
<text transform="translate(1972.1,1442.9) rotate(-90)" font-size="35.3" text-anchor="end" fill="#000">C10</text>
<text transform="translate(2012.4,1442.9) rotate(-90)" font-size="35.3" text-anchor="end" fill="#000">C11</text>
<text transform="translate(2052.7,1442.9) rotate(-90)" font-size="35.3" text-anchor="end" fill="#000">C14</text>
<text transform="translate(2093,1442.9) rotate(-90)" font-size="35.3" text-anchor="end" fill="#000">C15</text>
<text transform="translate(2133.3,1442.9) rotate(-90)" font-size="35.3" text-anchor="end" fill="#000">C16</text>
<path d="M249.6,1506.8 V1519 H369.6 V1506.8" fill="none" stroke="#000" stroke-width="2.5"/>
<text x="221.25" y="1559" font-size="34.5" text-anchor="start" letter-spacing="-0.32" fill="#000">DY6-GTGT</text>
<path d="M412.5,1506.8 V1519 H531.5 V1506.8" fill="none" stroke="#000" stroke-width="2.5"/>
<text x="408.25" y="1559" font-size="34.5" text-anchor="start" letter-spacing="0.17" fill="#000">G4-TTGT</text>
<path d="M572.5,1506.8 V1519 H691 V1506.8" fill="none" stroke="#000" stroke-width="2.5"/>
<text x="572.25" y="1559" font-size="34.5" text-anchor="start" letter-spacing="-0.08" fill="#000">U7-ATGT</text>
<path d="M735,1506.8 V1519 H897.5 V1506.8" fill="none" stroke="#000" stroke-width="2.5"/>
<text x="755.75" y="1559" font-size="34.5" text-anchor="start" letter-spacing="-0.42" fill="#000">V7-AAGT</text>
<path d="M971.1,1506.8 V1519 H1261.3 V1506.8" fill="none" stroke="#000" stroke-width="2.5"/>
<text x="1032.25" y="1559" font-size="34.5" text-anchor="start" letter-spacing="0.38" fill="#000">DN17-GAGG</text>
<path d="M1299.7,1506.8 V1519 H1581.1 V1506.8" fill="none" stroke="#000" stroke-width="2.5"/>
<text x="1354.35" y="1559" font-size="34.5" text-anchor="start" letter-spacing="0.33" fill="#000">DN18-GTGG</text>
<path d="M1621.9,1506.8 V1519 H1787.5 V1506.8" fill="none" stroke="#000" stroke-width="2.5"/>
<text x="1645.25" y="1559" font-size="34.5" text-anchor="start" letter-spacing="0.55" fill="#000">RU3-GTGG</text>
<path d="M1824.3,1506.8 V1519 H2151.6 V1506.8" fill="none" stroke="#000" stroke-width="2.5"/>
<text x="1944.1" y="1559" font-size="34.5" text-anchor="start" letter-spacing="0.28" fill="#000">S9-TAGG</text>
<text x="79.8" y="1508.6" font-size="32" text-anchor="start" fill="#000">Target C</text>
<text x="107.1" y="1558.6" font-size="34" text-anchor="start" fill="#000">Locus</text>
<rect x="1804" y="200.1" width="47.2" height="24.1" fill="#c0c0c0"/>
<rect x="1804" y="247.8" width="47.2" height="24.5" fill="#fa1a17"/>
<text x="1875.6" y="221.2" font-size="39.8" text-anchor="start" fill="#000">SlugCBE</text>
<text x="1875.6" y="269.3" font-size="39.8" text-anchor="start" fill="#000">SlugCBE-NNG</text>
<rect x="389.96" y="2116.16" width="23.8" height="14.04" fill="#8c40ff" stroke="#12062a" stroke-width="2.2"/>
<rect x="430.08" y="2092.93" width="23.8" height="37.27" fill="#8c40ff" stroke="#12062a" stroke-width="2.2"/>
<rect x="470.2" y="2075.51" width="23.8" height="54.69" fill="#8c40ff" stroke="#12062a" stroke-width="2.2"/>
<rect x="510.32" y="2023.72" width="23.8" height="106.48" fill="#8c40ff" stroke="#12062a" stroke-width="2.2"/>
<rect x="550.44" y="1970" width="23.8" height="160.2" fill="#8c40ff" stroke="#12062a" stroke-width="2.2"/>
<rect x="590.56" y="1946.28" width="23.8" height="183.92" fill="#8c40ff" stroke="#12062a" stroke-width="2.2"/>
<rect x="630.68" y="1985" width="23.8" height="145.2" fill="#8c40ff" stroke="#12062a" stroke-width="2.2"/>
<rect x="670.8" y="2007.26" width="23.8" height="122.94" fill="#8c40ff" stroke="#12062a" stroke-width="2.2"/>
<rect x="710.92" y="2020.82" width="23.8" height="109.38" fill="#8c40ff" stroke="#12062a" stroke-width="2.2"/>
<rect x="751.04" y="2024.69" width="23.8" height="105.51" fill="#8c40ff" stroke="#12062a" stroke-width="2.2"/>
<rect x="791.16" y="2013.07" width="23.8" height="117.13" fill="#8c40ff" stroke="#12062a" stroke-width="2.2"/>
<rect x="831.28" y="2059.54" width="23.8" height="70.66" fill="#8c40ff" stroke="#12062a" stroke-width="2.2"/>
<rect x="871.4" y="2085.19" width="23.8" height="45.01" fill="#8c40ff" stroke="#12062a" stroke-width="2.2"/>
<rect x="911.52" y="2118.1" width="23.8" height="12.1" fill="#8c40ff" stroke="#12062a" stroke-width="2.2"/>
<rect x="951.64" y="2124.88" width="23.8" height="5.32" fill="#8c40ff" stroke="#12062a" stroke-width="2.2"/>
<rect x="1072" y="2128.26" width="23.8" height="1.94" fill="#8c40ff" stroke="#12062a" stroke-width="2.2"/>
<line x1="401.86" y1="2116.16" x2="401.86" y2="2082.77" stroke="#000" stroke-width="2.4"/>
<line x1="394.86" y1="2082.77" x2="408.86" y2="2082.77" stroke="#000" stroke-width="2.6"/>
<line x1="441.98" y1="2092.93" x2="441.98" y2="1990.32" stroke="#000" stroke-width="2.4"/>
<line x1="434.98" y1="1990.32" x2="448.98" y2="1990.32" stroke="#000" stroke-width="2.6"/>
<line x1="482.1" y1="2075.51" x2="482.1" y2="2000.49" stroke="#000" stroke-width="2.4"/>
<line x1="475.1" y1="2000.49" x2="489.1" y2="2000.49" stroke="#000" stroke-width="2.6"/>
<line x1="522.22" y1="2023.72" x2="522.22" y2="1931.76" stroke="#000" stroke-width="2.4"/>
<line x1="515.22" y1="1931.76" x2="529.22" y2="1931.76" stroke="#000" stroke-width="2.6"/>
<line x1="562.34" y1="1970" x2="562.34" y2="1869.81" stroke="#000" stroke-width="2.4"/>
<line x1="555.34" y1="1869.81" x2="569.34" y2="1869.81" stroke="#000" stroke-width="2.6"/>
<line x1="602.46" y1="1946.28" x2="602.46" y2="1830.6" stroke="#000" stroke-width="2.4"/>
<line x1="595.46" y1="1830.6" x2="609.46" y2="1830.6" stroke="#000" stroke-width="2.6"/>
<line x1="642.58" y1="1985" x2="642.58" y2="1878.04" stroke="#000" stroke-width="2.4"/>
<line x1="635.58" y1="1878.04" x2="649.58" y2="1878.04" stroke="#000" stroke-width="2.6"/>
<line x1="682.7" y1="2007.26" x2="682.7" y2="1898.85" stroke="#000" stroke-width="2.4"/>
<line x1="675.7" y1="1898.85" x2="689.7" y2="1898.85" stroke="#000" stroke-width="2.6"/>
<line x1="722.82" y1="2020.82" x2="722.82" y2="1899.33" stroke="#000" stroke-width="2.4"/>
<line x1="715.82" y1="1899.33" x2="729.82" y2="1899.33" stroke="#000" stroke-width="2.6"/>
<line x1="762.94" y1="2024.69" x2="762.94" y2="1910.46" stroke="#000" stroke-width="2.4"/>
<line x1="755.94" y1="1910.46" x2="769.94" y2="1910.46" stroke="#000" stroke-width="2.6"/>
<line x1="803.06" y1="2013.07" x2="803.06" y2="1906.11" stroke="#000" stroke-width="2.4"/>
<line x1="796.06" y1="1906.11" x2="810.06" y2="1906.11" stroke="#000" stroke-width="2.6"/>
<line x1="843.18" y1="2059.54" x2="843.18" y2="1991.29" stroke="#000" stroke-width="2.4"/>
<line x1="836.18" y1="1991.29" x2="850.18" y2="1991.29" stroke="#000" stroke-width="2.6"/>
<line x1="883.3" y1="2085.19" x2="883.3" y2="2015.49" stroke="#000" stroke-width="2.4"/>
<line x1="876.3" y1="2015.49" x2="890.3" y2="2015.49" stroke="#000" stroke-width="2.6"/>
<line x1="923.42" y1="2118.1" x2="923.42" y2="2098.26" stroke="#000" stroke-width="2.4"/>
<line x1="916.42" y1="2098.26" x2="930.42" y2="2098.26" stroke="#000" stroke-width="2.6"/>
<line x1="963.54" y1="2124.88" x2="963.54" y2="2110.84" stroke="#000" stroke-width="2.4"/>
<line x1="956.54" y1="2110.84" x2="970.54" y2="2110.84" stroke="#000" stroke-width="2.6"/>
<line x1="1083.9" y1="2128.26" x2="1083.9" y2="2123.62" stroke="#000" stroke-width="2.4"/>
<line x1="1076.9" y1="2123.62" x2="1090.9" y2="2123.62" stroke="#000" stroke-width="2.6"/>
<line x1="255.3" y1="1644.9" x2="255.3" y2="2131.5" stroke="#000" stroke-width="2.6"/>
<line x1="241.3" y1="2130.2" x2="1118.3" y2="2130.2" stroke="#000" stroke-width="2.6"/>
<line x1="241.3" y1="2033.4" x2="255.3" y2="2033.4" stroke="#000" stroke-width="2.6"/>
<line x1="241.3" y1="1936.6" x2="255.3" y2="1936.6" stroke="#000" stroke-width="2.6"/>
<line x1="241.3" y1="1839.8" x2="255.3" y2="1839.8" stroke="#000" stroke-width="2.6"/>
<line x1="241.3" y1="1743" x2="255.3" y2="1743" stroke="#000" stroke-width="2.6"/>
<line x1="241.3" y1="1646.2" x2="255.3" y2="1646.2" stroke="#000" stroke-width="2.6"/>
<circle cx="321.62" cy="2127.9" r="2.1" fill="#9c9c9c" fill-opacity="0.85"/>
<circle cx="326.62" cy="2127.9" r="2.1" fill="#9c9c9c" fill-opacity="0.85"/>
<circle cx="316.62" cy="2127.9" r="2.1" fill="#9c9c9c" fill-opacity="0.85"/>
<circle cx="331.62" cy="2127.9" r="2.1" fill="#9c9c9c" fill-opacity="0.85"/>
<circle cx="311.62" cy="2127.9" r="2.1" fill="#9c9c9c" fill-opacity="0.85"/>
<circle cx="317.57" cy="2127.9" r="2.1" fill="#9c9c9c" fill-opacity="0.85"/>
<circle cx="313.59" cy="2127.9" r="2.1" fill="#9c9c9c" fill-opacity="0.85"/>
<circle cx="325.09" cy="2127.9" r="2.1" fill="#9c9c9c" fill-opacity="0.85"/>
<circle cx="311.79" cy="2127.9" r="2.1" fill="#9c9c9c" fill-opacity="0.85"/>
<circle cx="322.45" cy="2127.9" r="2.1" fill="#9c9c9c" fill-opacity="0.85"/>
<circle cx="361.74" cy="2127.9" r="2.1" fill="#9c9c9c" fill-opacity="0.85"/>
<circle cx="366.74" cy="2127.9" r="2.1" fill="#9c9c9c" fill-opacity="0.85"/>
<circle cx="356.74" cy="2127.9" r="2.1" fill="#9c9c9c" fill-opacity="0.85"/>
<circle cx="371.74" cy="2127.9" r="2.1" fill="#9c9c9c" fill-opacity="0.85"/>
<circle cx="351.74" cy="2127.9" r="2.1" fill="#9c9c9c" fill-opacity="0.85"/>
<circle cx="358.65" cy="2127.9" r="2.1" fill="#9c9c9c" fill-opacity="0.85"/>
<circle cx="351.57" cy="2127.9" r="2.1" fill="#9c9c9c" fill-opacity="0.85"/>
<circle cx="361.91" cy="2127.9" r="2.1" fill="#9c9c9c" fill-opacity="0.85"/>
<circle cx="401.86" cy="2127.9" r="2.1" fill="#9c9c9c" fill-opacity="0.85"/>
<circle cx="406.86" cy="2127.9" r="2.1" fill="#9c9c9c" fill-opacity="0.85"/>
<circle cx="396.86" cy="2127.9" r="2.1" fill="#9c9c9c" fill-opacity="0.85"/>
<circle cx="411.86" cy="2127.9" r="2.1" fill="#9c9c9c" fill-opacity="0.85"/>
<circle cx="391.86" cy="2127.9" r="2.1" fill="#9c9c9c" fill-opacity="0.85"/>
<circle cx="391.22" cy="2127.9" r="2.1" fill="#9c9c9c" fill-opacity="0.85"/>
<circle cx="400.33" cy="2127.9" r="2.1" fill="#9c9c9c" fill-opacity="0.85"/>
<circle cx="391.97" cy="2127.9" r="2.1" fill="#9c9c9c" fill-opacity="0.85"/>
<circle cx="392.45" cy="2127.9" r="2.1" fill="#9c9c9c" fill-opacity="0.85"/>
<circle cx="400.12" cy="2127.9" r="2.1" fill="#9c9c9c" fill-opacity="0.85"/>
<circle cx="409.38" cy="2127.9" r="2.1" fill="#9c9c9c" fill-opacity="0.85"/>
<circle cx="393.21" cy="2127.9" r="2.1" fill="#9c9c9c" fill-opacity="0.85"/>
<circle cx="395.49" cy="2127.9" r="2.1" fill="#9c9c9c" fill-opacity="0.85"/>
<circle cx="404.79" cy="2127.9" r="2.1" fill="#9c9c9c" fill-opacity="0.85"/>
<circle cx="412.16" cy="2127.9" r="2.1" fill="#9c9c9c" fill-opacity="0.85"/>
<circle cx="403.63" cy="2127.9" r="2.1" fill="#9c9c9c" fill-opacity="0.85"/>
<circle cx="399.48" cy="2127.9" r="2.1" fill="#9c9c9c" fill-opacity="0.85"/>
<circle cx="412.81" cy="2127.9" r="2.1" fill="#9c9c9c" fill-opacity="0.85"/>
<circle cx="391.43" cy="2127.9" r="2.1" fill="#9c9c9c" fill-opacity="0.85"/>
<circle cx="410.1" cy="2127.9" r="2.1" fill="#9c9c9c" fill-opacity="0.85"/>
<circle cx="397.02" cy="2127.9" r="2.1" fill="#9c9c9c" fill-opacity="0.85"/>
<circle cx="393.68" cy="2127.9" r="2.1" fill="#9c9c9c" fill-opacity="0.85"/>
<circle cx="401.86" cy="2124.39" r="2.1" fill="#9c9c9c" fill-opacity="0.85"/>
<circle cx="403.86" cy="2120.52" r="2.1" fill="#9c9c9c" fill-opacity="0.85"/>
<circle cx="401.86" cy="2116.65" r="2.1" fill="#9c9c9c" fill-opacity="0.85"/>
<circle cx="405.86" cy="2114.23" r="2.1" fill="#9c9c9c" fill-opacity="0.85"/>
<circle cx="401.86" cy="2055.66" r="2.1" fill="#9c9c9c" fill-opacity="0.85"/>
<circle cx="401.86" cy="2046.95" r="2.1" fill="#9c9c9c" fill-opacity="0.85"/>
<circle cx="401.86" cy="2039.21" r="2.1" fill="#9c9c9c" fill-opacity="0.85"/>
<circle cx="401.86" cy="2031.46" r="2.1" fill="#9c9c9c" fill-opacity="0.85"/>
<circle cx="401.86" cy="2024.2" r="2.1" fill="#9c9c9c" fill-opacity="0.85"/>
<circle cx="441.98" cy="2127.9" r="2.1" fill="#9c9c9c" fill-opacity="0.85"/>
<circle cx="446.98" cy="2127.9" r="2.1" fill="#9c9c9c" fill-opacity="0.85"/>
<circle cx="436.98" cy="2127.9" r="2.1" fill="#9c9c9c" fill-opacity="0.85"/>
<circle cx="451.98" cy="2127.9" r="2.1" fill="#9c9c9c" fill-opacity="0.85"/>
<circle cx="431.98" cy="2127.9" r="2.1" fill="#9c9c9c" fill-opacity="0.85"/>
<circle cx="433.19" cy="2127.9" r="2.1" fill="#9c9c9c" fill-opacity="0.85"/>
<circle cx="437.58" cy="2127.9" r="2.1" fill="#9c9c9c" fill-opacity="0.85"/>
<circle cx="449.25" cy="2127.9" r="2.1" fill="#9c9c9c" fill-opacity="0.85"/>
<circle cx="434.64" cy="2127.9" r="2.1" fill="#9c9c9c" fill-opacity="0.85"/>
<circle cx="443.86" cy="2127.9" r="2.1" fill="#9c9c9c" fill-opacity="0.85"/>
<circle cx="445.18" cy="2127.9" r="2.1" fill="#9c9c9c" fill-opacity="0.85"/>
<circle cx="439.05" cy="2127.9" r="2.1" fill="#9c9c9c" fill-opacity="0.85"/>
<circle cx="443.08" cy="2127.9" r="2.1" fill="#9c9c9c" fill-opacity="0.85"/>
<circle cx="431.92" cy="2127.9" r="2.1" fill="#9c9c9c" fill-opacity="0.85"/>
<circle cx="431.85" cy="2127.9" r="2.1" fill="#9c9c9c" fill-opacity="0.85"/>
<circle cx="435.22" cy="2127.9" r="2.1" fill="#9c9c9c" fill-opacity="0.85"/>
<circle cx="446.13" cy="2127.9" r="2.1" fill="#9c9c9c" fill-opacity="0.85"/>
<circle cx="440.31" cy="2127.9" r="2.1" fill="#9c9c9c" fill-opacity="0.85"/>
<circle cx="437.71" cy="2127.9" r="2.1" fill="#9c9c9c" fill-opacity="0.85"/>
<circle cx="443.95" cy="2127.9" r="2.1" fill="#9c9c9c" fill-opacity="0.85"/>
<circle cx="440.9" cy="2127.9" r="2.1" fill="#9c9c9c" fill-opacity="0.85"/>
<circle cx="437.37" cy="2127.9" r="2.1" fill="#9c9c9c" fill-opacity="0.85"/>
<circle cx="441.98" cy="2113.26" r="2.1" fill="#9c9c9c" fill-opacity="0.85"/>
<circle cx="445.98" cy="2110.84" r="2.1" fill="#9c9c9c" fill-opacity="0.85"/>
<circle cx="441.98" cy="2108.42" r="2.1" fill="#9c9c9c" fill-opacity="0.85"/>
<circle cx="445.98" cy="2106" r="2.1" fill="#9c9c9c" fill-opacity="0.85"/>
<circle cx="441.98" cy="2103.58" r="2.1" fill="#9c9c9c" fill-opacity="0.85"/>
<circle cx="445.98" cy="2101.16" r="2.1" fill="#9c9c9c" fill-opacity="0.85"/>
<circle cx="441.98" cy="1847.06" r="2.1" fill="#9c9c9c" fill-opacity="0.85"/>
<circle cx="441.98" cy="1786.56" r="2.1" fill="#9c9c9c" fill-opacity="0.85"/>
<circle cx="441.98" cy="1753.16" r="2.1" fill="#9c9c9c" fill-opacity="0.85"/>
<circle cx="482.1" cy="2127.9" r="2.1" fill="#9c9c9c" fill-opacity="0.85"/>
<circle cx="487.1" cy="2127.9" r="2.1" fill="#9c9c9c" fill-opacity="0.85"/>
<circle cx="477.1" cy="2127.9" r="2.1" fill="#9c9c9c" fill-opacity="0.85"/>
<circle cx="492.1" cy="2127.9" r="2.1" fill="#9c9c9c" fill-opacity="0.85"/>
<circle cx="472.1" cy="2127.9" r="2.1" fill="#9c9c9c" fill-opacity="0.85"/>
<circle cx="488.87" cy="2127.9" r="2.1" fill="#9c9c9c" fill-opacity="0.85"/>
<circle cx="486.68" cy="2127.9" r="2.1" fill="#9c9c9c" fill-opacity="0.85"/>
<circle cx="476.21" cy="2127.9" r="2.1" fill="#9c9c9c" fill-opacity="0.85"/>
<circle cx="483.81" cy="2127.9" r="2.1" fill="#9c9c9c" fill-opacity="0.85"/>
<circle cx="482.68" cy="2127.9" r="2.1" fill="#9c9c9c" fill-opacity="0.85"/>
<circle cx="490.73" cy="2127.9" r="2.1" fill="#9c9c9c" fill-opacity="0.85"/>
<circle cx="487.38" cy="2127.9" r="2.1" fill="#9c9c9c" fill-opacity="0.85"/>
<circle cx="477.22" cy="2127.9" r="2.1" fill="#9c9c9c" fill-opacity="0.85"/>
<circle cx="493.14" cy="2127.9" r="2.1" fill="#9c9c9c" fill-opacity="0.85"/>
<circle cx="473.32" cy="2127.9" r="2.1" fill="#9c9c9c" fill-opacity="0.85"/>
<circle cx="480.22" cy="2127.9" r="2.1" fill="#9c9c9c" fill-opacity="0.85"/>
<circle cx="488.01" cy="2127.9" r="2.1" fill="#9c9c9c" fill-opacity="0.85"/>
<circle cx="474.1" cy="2126.94" r="2.1" fill="#9c9c9c" fill-opacity="0.85"/>
<circle cx="481.85" cy="2126" r="2.1" fill="#9c9c9c" fill-opacity="0.85"/>
<circle cx="491.1" cy="2125" r="2.1" fill="#9c9c9c" fill-opacity="0.85"/>
<circle cx="486.1" cy="2124.11" r="2.1" fill="#9c9c9c" fill-opacity="0.85"/>
<circle cx="479.1" cy="2122.35" r="2.1" fill="#9c9c9c" fill-opacity="0.85"/>
<circle cx="474.1" cy="2121.79" r="2.1" fill="#9c9c9c" fill-opacity="0.85"/>
<circle cx="483.1" cy="2120.84" r="2.1" fill="#9c9c9c" fill-opacity="0.85"/>
<circle cx="488.1" cy="2120.32" r="2.1" fill="#9c9c9c" fill-opacity="0.85"/>
<circle cx="492.1" cy="2119.12" r="2.1" fill="#9c9c9c" fill-opacity="0.85"/>
<circle cx="477.1" cy="2118.54" r="2.1" fill="#9c9c9c" fill-opacity="0.85"/>
<circle cx="482.1" cy="2115.76" r="2.1" fill="#9c9c9c" fill-opacity="0.85"/>
<circle cx="487.1" cy="2115.68" r="2.1" fill="#9c9c9c" fill-opacity="0.85"/>
<circle cx="479.1" cy="2112.53" r="2.1" fill="#9c9c9c" fill-opacity="0.85"/>
<circle cx="482.1" cy="2105.95" r="2.1" fill="#9c9c9c" fill-opacity="0.85"/>
<circle cx="487.1" cy="2105.37" r="2.1" fill="#9c9c9c" fill-opacity="0.85"/>
<circle cx="483.1" cy="2101.95" r="2.1" fill="#9c9c9c" fill-opacity="0.85"/>
<circle cx="479.1" cy="2100.85" r="2.1" fill="#9c9c9c" fill-opacity="0.85"/>
<circle cx="482.1" cy="2095.01" r="2.1" fill="#9c9c9c" fill-opacity="0.85"/>
<circle cx="486.1" cy="2093.01" r="2.1" fill="#9c9c9c" fill-opacity="0.85"/>
<circle cx="479.1" cy="2091.9" r="2.1" fill="#9c9c9c" fill-opacity="0.85"/>
<circle cx="475.1" cy="2090.8" r="2.1" fill="#9c9c9c" fill-opacity="0.85"/>
<circle cx="482.1" cy="2080.91" r="2.1" fill="#9c9c9c" fill-opacity="0.85"/>
<circle cx="487.1" cy="2080.89" r="2.1" fill="#9c9c9c" fill-opacity="0.85"/>
<circle cx="477.1" cy="2080.36" r="2.1" fill="#9c9c9c" fill-opacity="0.85"/>
<circle cx="484.1" cy="2077.04" r="2.1" fill="#9c9c9c" fill-opacity="0.85"/>
<circle cx="482.1" cy="2067.28" r="2.1" fill="#9c9c9c" fill-opacity="0.85"/>
<circle cx="486.1" cy="2064.86" r="2.1" fill="#9c9c9c" fill-opacity="0.85"/>
<circle cx="478.1" cy="2064.6" r="2.1" fill="#9c9c9c" fill-opacity="0.85"/>
<circle cx="490.1" cy="2063.28" r="2.1" fill="#9c9c9c" fill-opacity="0.85"/>
<circle cx="482.1" cy="2062.44" r="2.1" fill="#9c9c9c" fill-opacity="0.85"/>
<circle cx="482.1" cy="2057.06" r="2.1" fill="#9c9c9c" fill-opacity="0.85"/>
<circle cx="482.1" cy="2049.29" r="2.1" fill="#9c9c9c" fill-opacity="0.85"/>
<circle cx="482.1" cy="1988.39" r="2.1" fill="#9c9c9c" fill-opacity="0.85"/>
<circle cx="482.1" cy="1960.32" r="2.1" fill="#9c9c9c" fill-opacity="0.85"/>
<circle cx="482.1" cy="1946.28" r="2.1" fill="#9c9c9c" fill-opacity="0.85"/>
<circle cx="482.1" cy="1892.07" r="2.1" fill="#9c9c9c" fill-opacity="0.85"/>
<circle cx="482.1" cy="1848.03" r="2.1" fill="#9c9c9c" fill-opacity="0.85"/>
<circle cx="482.1" cy="1827.7" r="2.1" fill="#9c9c9c" fill-opacity="0.85"/>
<circle cx="522.22" cy="2127.9" r="2.1" fill="#9c9c9c" fill-opacity="0.85"/>
<circle cx="527.22" cy="2127.9" r="2.1" fill="#9c9c9c" fill-opacity="0.85"/>
<circle cx="517.22" cy="2127.9" r="2.1" fill="#9c9c9c" fill-opacity="0.85"/>
<circle cx="532.22" cy="2127.9" r="2.1" fill="#9c9c9c" fill-opacity="0.85"/>
<circle cx="512.22" cy="2127.9" r="2.1" fill="#9c9c9c" fill-opacity="0.85"/>
<circle cx="511.62" cy="2127.9" r="2.1" fill="#9c9c9c" fill-opacity="0.85"/>
<circle cx="526.09" cy="2127.9" r="2.1" fill="#9c9c9c" fill-opacity="0.85"/>
<circle cx="528.31" cy="2127.9" r="2.1" fill="#9c9c9c" fill-opacity="0.85"/>
<circle cx="523.9" cy="2127.9" r="2.1" fill="#9c9c9c" fill-opacity="0.85"/>
<circle cx="530.86" cy="2126.73" r="2.1" fill="#9c9c9c" fill-opacity="0.85"/>
<circle cx="517.94" cy="2126.46" r="2.1" fill="#9c9c9c" fill-opacity="0.85"/>
<circle cx="522.22" cy="2122.93" r="2.1" fill="#9c9c9c" fill-opacity="0.85"/>
<circle cx="527.22" cy="2122.9" r="2.1" fill="#9c9c9c" fill-opacity="0.85"/>
<circle cx="516.22" cy="2122.46" r="2.1" fill="#9c9c9c" fill-opacity="0.85"/>
<circle cx="523.22" cy="2118.95" r="2.1" fill="#9c9c9c" fill-opacity="0.85"/>
<circle cx="518.22" cy="2118.43" r="2.1" fill="#9c9c9c" fill-opacity="0.85"/>
<circle cx="522.22" cy="2113.51" r="2.1" fill="#9c9c9c" fill-opacity="0.85"/>
<circle cx="527.22" cy="2113.51" r="2.1" fill="#9c9c9c" fill-opacity="0.85"/>
<circle cx="522.22" cy="2099.69" r="2.1" fill="#9c9c9c" fill-opacity="0.85"/>
<circle cx="522.22" cy="2078.06" r="2.1" fill="#9c9c9c" fill-opacity="0.85"/>
<circle cx="522.22" cy="2069.57" r="2.1" fill="#9c9c9c" fill-opacity="0.85"/>
<circle cx="522.22" cy="2063.01" r="2.1" fill="#9c9c9c" fill-opacity="0.85"/>
<circle cx="527.22" cy="2062.73" r="2.1" fill="#9c9c9c" fill-opacity="0.85"/>
<circle cx="522.22" cy="2056.85" r="2.1" fill="#9c9c9c" fill-opacity="0.85"/>
<circle cx="526.22" cy="2054.28" r="2.1" fill="#9c9c9c" fill-opacity="0.85"/>
<circle cx="519.22" cy="2053.89" r="2.1" fill="#9c9c9c" fill-opacity="0.85"/>
<circle cx="522.22" cy="2051.02" r="2.1" fill="#9c9c9c" fill-opacity="0.85"/>
<circle cx="522.22" cy="2036.94" r="2.1" fill="#9c9c9c" fill-opacity="0.85"/>
<circle cx="522.22" cy="2031.11" r="2.1" fill="#9c9c9c" fill-opacity="0.85"/>
<circle cx="526.22" cy="2028.93" r="2.1" fill="#9c9c9c" fill-opacity="0.85"/>
<circle cx="522.22" cy="2023.88" r="2.1" fill="#9c9c9c" fill-opacity="0.85"/>
<circle cx="522.22" cy="1985" r="2.1" fill="#9c9c9c" fill-opacity="0.85"/>
<circle cx="522.22" cy="1972.39" r="2.1" fill="#9c9c9c" fill-opacity="0.85"/>
<circle cx="527.22" cy="1971.77" r="2.1" fill="#9c9c9c" fill-opacity="0.85"/>
<circle cx="519.22" cy="1969.57" r="2.1" fill="#9c9c9c" fill-opacity="0.85"/>
<circle cx="522.22" cy="1897.88" r="2.1" fill="#9c9c9c" fill-opacity="0.85"/>
<circle cx="522.22" cy="1878.04" r="2.1" fill="#9c9c9c" fill-opacity="0.85"/>
<circle cx="522.22" cy="1854.8" r="2.1" fill="#9c9c9c" fill-opacity="0.85"/>
<circle cx="522.22" cy="1834.48" r="2.1" fill="#9c9c9c" fill-opacity="0.85"/>
<circle cx="524.22" cy="1830.6" r="2.1" fill="#9c9c9c" fill-opacity="0.85"/>
<circle cx="522.22" cy="1805.92" r="2.1" fill="#9c9c9c" fill-opacity="0.85"/>
<circle cx="562.34" cy="2127.9" r="2.1" fill="#9c9c9c" fill-opacity="0.85"/>
<circle cx="567.34" cy="2127.9" r="2.1" fill="#9c9c9c" fill-opacity="0.85"/>
<circle cx="557.34" cy="2127.9" r="2.1" fill="#9c9c9c" fill-opacity="0.85"/>
<circle cx="572.34" cy="2127.9" r="2.1" fill="#9c9c9c" fill-opacity="0.85"/>
<circle cx="552.34" cy="2127.9" r="2.1" fill="#9c9c9c" fill-opacity="0.85"/>
<circle cx="566.83" cy="2127.9" r="2.1" fill="#9c9c9c" fill-opacity="0.85"/>
<circle cx="564.51" cy="2127.9" r="2.1" fill="#9c9c9c" fill-opacity="0.85"/>
<circle cx="564.18" cy="2127.9" r="2.1" fill="#9c9c9c" fill-opacity="0.85"/>
<circle cx="561.33" cy="2126.5" r="2.1" fill="#9c9c9c" fill-opacity="0.85"/>
<circle cx="562.34" cy="2121.87" r="2.1" fill="#9c9c9c" fill-opacity="0.85"/>
<circle cx="566.34" cy="2120.89" r="2.1" fill="#9c9c9c" fill-opacity="0.85"/>
<circle cx="560.34" cy="2117.91" r="2.1" fill="#9c9c9c" fill-opacity="0.85"/>
<circle cx="562.34" cy="2114.26" r="2.1" fill="#9c9c9c" fill-opacity="0.85"/>
<circle cx="567.34" cy="2113.39" r="2.1" fill="#9c9c9c" fill-opacity="0.85"/>
<circle cx="559.34" cy="2111.08" r="2.1" fill="#9c9c9c" fill-opacity="0.85"/>
<circle cx="564.34" cy="2110.3" r="2.1" fill="#9c9c9c" fill-opacity="0.85"/>
<circle cx="555.34" cy="2109.85" r="2.1" fill="#9c9c9c" fill-opacity="0.85"/>
<circle cx="562.34" cy="2083.63" r="2.1" fill="#9c9c9c" fill-opacity="0.85"/>
<circle cx="562.34" cy="2067.33" r="2.1" fill="#9c9c9c" fill-opacity="0.85"/>
<circle cx="562.34" cy="2056.45" r="2.1" fill="#9c9c9c" fill-opacity="0.85"/>
<circle cx="562.34" cy="2049.34" r="2.1" fill="#9c9c9c" fill-opacity="0.85"/>
<circle cx="566.34" cy="2047.61" r="2.1" fill="#9c9c9c" fill-opacity="0.85"/>
<circle cx="559.34" cy="2045.97" r="2.1" fill="#9c9c9c" fill-opacity="0.85"/>
<circle cx="562.34" cy="2036.97" r="2.1" fill="#9c9c9c" fill-opacity="0.85"/>
<circle cx="567.34" cy="2036.67" r="2.1" fill="#9c9c9c" fill-opacity="0.85"/>
<circle cx="562.34" cy="2030.1" r="2.1" fill="#9c9c9c" fill-opacity="0.85"/>
<circle cx="567.34" cy="2029.87" r="2.1" fill="#9c9c9c" fill-opacity="0.85"/>
<circle cx="562.34" cy="2024.93" r="2.1" fill="#9c9c9c" fill-opacity="0.85"/>
<circle cx="562.34" cy="2014.28" r="2.1" fill="#9c9c9c" fill-opacity="0.85"/>
<circle cx="562.34" cy="1991.25" r="2.1" fill="#9c9c9c" fill-opacity="0.85"/>
<circle cx="566.34" cy="1989.25" r="2.1" fill="#9c9c9c" fill-opacity="0.85"/>
<circle cx="562.34" cy="1982.75" r="2.1" fill="#9c9c9c" fill-opacity="0.85"/>
<circle cx="566.34" cy="1981.3" r="2.1" fill="#9c9c9c" fill-opacity="0.85"/>
<circle cx="558.34" cy="1981.02" r="2.1" fill="#9c9c9c" fill-opacity="0.85"/>
<circle cx="562.34" cy="1976.44" r="2.1" fill="#9c9c9c" fill-opacity="0.85"/>
<circle cx="567.34" cy="1975.84" r="2.1" fill="#9c9c9c" fill-opacity="0.85"/>
<circle cx="558.34" cy="1973.88" r="2.1" fill="#9c9c9c" fill-opacity="0.85"/>
<circle cx="562.34" cy="1953.54" r="2.1" fill="#9c9c9c" fill-opacity="0.85"/>
<circle cx="566.34" cy="1952.09" r="2.1" fill="#9c9c9c" fill-opacity="0.85"/>
<circle cx="559.34" cy="1950.15" r="2.1" fill="#9c9c9c" fill-opacity="0.85"/>
<circle cx="563.34" cy="1948.7" r="2.1" fill="#9c9c9c" fill-opacity="0.85"/>
<circle cx="562.34" cy="1938.72" r="2.1" fill="#9c9c9c" fill-opacity="0.85"/>
<circle cx="564.34" cy="1935.02" r="2.1" fill="#9c9c9c" fill-opacity="0.85"/>
<circle cx="562.34" cy="1925.95" r="2.1" fill="#9c9c9c" fill-opacity="0.85"/>
<circle cx="566.34" cy="1924.98" r="2.1" fill="#9c9c9c" fill-opacity="0.85"/>
<circle cx="562.34" cy="1911.43" r="2.1" fill="#9c9c9c" fill-opacity="0.85"/>
<circle cx="566.34" cy="1910.46" r="2.1" fill="#9c9c9c" fill-opacity="0.85"/>
<circle cx="562.34" cy="1890.77" r="2.1" fill="#9c9c9c" fill-opacity="0.85"/>
<circle cx="562.34" cy="1882.39" r="2.1" fill="#9c9c9c" fill-opacity="0.85"/>
<circle cx="567.34" cy="1882.02" r="2.1" fill="#9c9c9c" fill-opacity="0.85"/>
<circle cx="558.34" cy="1881.42" r="2.1" fill="#9c9c9c" fill-opacity="0.85"/>
<circle cx="562.34" cy="1874.66" r="2.1" fill="#9c9c9c" fill-opacity="0.85"/>
<circle cx="562.34" cy="1860.61" r="2.1" fill="#9c9c9c" fill-opacity="0.85"/>
<circle cx="562.34" cy="1841.74" r="2.1" fill="#9c9c9c" fill-opacity="0.85"/>
<circle cx="566.34" cy="1839.8" r="2.1" fill="#9c9c9c" fill-opacity="0.85"/>
<circle cx="560.34" cy="1837.86" r="2.1" fill="#9c9c9c" fill-opacity="0.85"/>
<circle cx="562.34" cy="1813.18" r="2.1" fill="#9c9c9c" fill-opacity="0.85"/>
<circle cx="566.34" cy="1811.24" r="2.1" fill="#9c9c9c" fill-opacity="0.85"/>
<circle cx="559.34" cy="1809.79" r="2.1" fill="#9c9c9c" fill-opacity="0.85"/>
<circle cx="562.34" cy="1780.27" r="2.1" fill="#9c9c9c" fill-opacity="0.85"/>
<circle cx="562.34" cy="1767.68" r="2.1" fill="#9c9c9c" fill-opacity="0.85"/>
<circle cx="562.34" cy="1727.03" r="2.1" fill="#9c9c9c" fill-opacity="0.85"/>
<circle cx="602.46" cy="2127.9" r="2.1" fill="#9c9c9c" fill-opacity="0.85"/>
<circle cx="607.46" cy="2127.9" r="2.1" fill="#9c9c9c" fill-opacity="0.85"/>
<circle cx="597.46" cy="2127.9" r="2.1" fill="#9c9c9c" fill-opacity="0.85"/>
<circle cx="612.46" cy="2127.9" r="2.1" fill="#9c9c9c" fill-opacity="0.85"/>
<circle cx="592.46" cy="2127.9" r="2.1" fill="#9c9c9c" fill-opacity="0.85"/>
<circle cx="610.28" cy="2127.9" r="2.1" fill="#9c9c9c" fill-opacity="0.85"/>
<circle cx="612.69" cy="2127.9" r="2.1" fill="#9c9c9c" fill-opacity="0.85"/>
<circle cx="601.86" cy="2127.9" r="2.1" fill="#9c9c9c" fill-opacity="0.85"/>
<circle cx="606.24" cy="2127.9" r="2.1" fill="#9c9c9c" fill-opacity="0.85"/>
<circle cx="592.36" cy="2127.9" r="2.1" fill="#9c9c9c" fill-opacity="0.85"/>
<circle cx="607.09" cy="2127.88" r="2.1" fill="#9c9c9c" fill-opacity="0.85"/>
<circle cx="605.84" cy="2127.64" r="2.1" fill="#9c9c9c" fill-opacity="0.85"/>
<circle cx="613.8" cy="2126.75" r="2.1" fill="#9c9c9c" fill-opacity="0.85"/>
<circle cx="609.86" cy="2126.73" r="2.1" fill="#9c9c9c" fill-opacity="0.85"/>
<circle cx="597.51" cy="2126.52" r="2.1" fill="#9c9c9c" fill-opacity="0.85"/>
<circle cx="602.46" cy="2119.89" r="2.1" fill="#9c9c9c" fill-opacity="0.85"/>
<circle cx="607.46" cy="2119.34" r="2.1" fill="#9c9c9c" fill-opacity="0.85"/>
<circle cx="602.46" cy="2115.61" r="2.1" fill="#9c9c9c" fill-opacity="0.85"/>
<circle cx="597.46" cy="2115.53" r="2.1" fill="#9c9c9c" fill-opacity="0.85"/>
<circle cx="608.46" cy="2115.28" r="2.1" fill="#9c9c9c" fill-opacity="0.85"/>
<circle cx="593.46" cy="2114.28" r="2.1" fill="#9c9c9c" fill-opacity="0.85"/>
<circle cx="612.46" cy="2113.78" r="2.1" fill="#9c9c9c" fill-opacity="0.85"/>
<circle cx="599.83" cy="2113.4" r="2.1" fill="#9c9c9c" fill-opacity="0.85"/>
<circle cx="606.34" cy="2113.4" r="2.1" fill="#9c9c9c" fill-opacity="0.85"/>
<circle cx="591.48" cy="2111.47" r="2.1" fill="#9c9c9c" fill-opacity="0.85"/>
<circle cx="602.46" cy="2100.91" r="2.1" fill="#9c9c9c" fill-opacity="0.85"/>
<circle cx="602.46" cy="2079.3" r="2.1" fill="#9c9c9c" fill-opacity="0.85"/>
<circle cx="602.46" cy="2046.52" r="2.1" fill="#9c9c9c" fill-opacity="0.85"/>
<circle cx="602.46" cy="2035.06" r="2.1" fill="#9c9c9c" fill-opacity="0.85"/>
<circle cx="602.46" cy="2010.81" r="2.1" fill="#9c9c9c" fill-opacity="0.85"/>
<circle cx="606.46" cy="2009.39" r="2.1" fill="#9c9c9c" fill-opacity="0.85"/>
<circle cx="600.46" cy="2007.2" r="2.1" fill="#9c9c9c" fill-opacity="0.85"/>
<circle cx="602.46" cy="1993" r="2.1" fill="#9c9c9c" fill-opacity="0.85"/>
<circle cx="606.46" cy="1991.34" r="2.1" fill="#9c9c9c" fill-opacity="0.85"/>
<circle cx="602.46" cy="1988.64" r="2.1" fill="#9c9c9c" fill-opacity="0.85"/>
<circle cx="602.46" cy="1983.82" r="2.1" fill="#9c9c9c" fill-opacity="0.85"/>
<circle cx="602.46" cy="1969.01" r="2.1" fill="#9c9c9c" fill-opacity="0.85"/>
<circle cx="602.46" cy="1961.97" r="2.1" fill="#9c9c9c" fill-opacity="0.85"/>
<circle cx="602.46" cy="1954.31" r="2.1" fill="#9c9c9c" fill-opacity="0.85"/>
<circle cx="607.46" cy="1953.86" r="2.1" fill="#9c9c9c" fill-opacity="0.85"/>
<circle cx="602.46" cy="1934.83" r="2.1" fill="#9c9c9c" fill-opacity="0.85"/>
<circle cx="602.46" cy="1925.16" r="2.1" fill="#9c9c9c" fill-opacity="0.85"/>
<circle cx="602.46" cy="1911.14" r="2.1" fill="#9c9c9c" fill-opacity="0.85"/>
<circle cx="602.46" cy="1904.37" r="2.1" fill="#9c9c9c" fill-opacity="0.85"/>
<circle cx="602.46" cy="1864.04" r="2.1" fill="#9c9c9c" fill-opacity="0.85"/>
<circle cx="602.46" cy="1857.43" r="2.1" fill="#9c9c9c" fill-opacity="0.85"/>
<circle cx="602.46" cy="1832.54" r="2.1" fill="#9c9c9c" fill-opacity="0.85"/>
<circle cx="606.46" cy="1830.12" r="2.1" fill="#9c9c9c" fill-opacity="0.85"/>
<circle cx="602.46" cy="1827.7" r="2.1" fill="#9c9c9c" fill-opacity="0.85"/>
<circle cx="602.46" cy="1814.63" r="2.1" fill="#9c9c9c" fill-opacity="0.85"/>
<circle cx="602.46" cy="1803.98" r="2.1" fill="#9c9c9c" fill-opacity="0.85"/>
<circle cx="602.46" cy="1793.34" r="2.1" fill="#9c9c9c" fill-opacity="0.85"/>
<circle cx="602.46" cy="1783.66" r="2.1" fill="#9c9c9c" fill-opacity="0.85"/>
<circle cx="605.46" cy="1780.75" r="2.1" fill="#9c9c9c" fill-opacity="0.85"/>
<circle cx="602.46" cy="1775.43" r="2.1" fill="#9c9c9c" fill-opacity="0.85"/>
<circle cx="602.46" cy="1756.55" r="2.1" fill="#9c9c9c" fill-opacity="0.85"/>
<circle cx="605.46" cy="1753.65" r="2.1" fill="#9c9c9c" fill-opacity="0.85"/>
<circle cx="642.58" cy="2127.9" r="2.1" fill="#9c9c9c" fill-opacity="0.85"/>
<circle cx="647.58" cy="2127.9" r="2.1" fill="#9c9c9c" fill-opacity="0.85"/>
<circle cx="637.58" cy="2127.9" r="2.1" fill="#9c9c9c" fill-opacity="0.85"/>
<circle cx="652.58" cy="2127.9" r="2.1" fill="#9c9c9c" fill-opacity="0.85"/>
<circle cx="632.58" cy="2127.9" r="2.1" fill="#9c9c9c" fill-opacity="0.85"/>
<circle cx="641.7" cy="2127.9" r="2.1" fill="#9c9c9c" fill-opacity="0.85"/>
<circle cx="634.95" cy="2127.9" r="2.1" fill="#9c9c9c" fill-opacity="0.85"/>
<circle cx="633.77" cy="2127.9" r="2.1" fill="#9c9c9c" fill-opacity="0.85"/>
<circle cx="632.44" cy="2127.9" r="2.1" fill="#9c9c9c" fill-opacity="0.85"/>
<circle cx="648.75" cy="2127.9" r="2.1" fill="#9c9c9c" fill-opacity="0.85"/>
<circle cx="634.05" cy="2127.23" r="2.1" fill="#9c9c9c" fill-opacity="0.85"/>
<circle cx="636.78" cy="2126.95" r="2.1" fill="#9c9c9c" fill-opacity="0.85"/>
<circle cx="644.58" cy="2125.87" r="2.1" fill="#9c9c9c" fill-opacity="0.85"/>
<circle cx="641.58" cy="2122.32" r="2.1" fill="#9c9c9c" fill-opacity="0.85"/>
<circle cx="645.58" cy="2120.43" r="2.1" fill="#9c9c9c" fill-opacity="0.85"/>
<circle cx="642.58" cy="2113.01" r="2.1" fill="#9c9c9c" fill-opacity="0.85"/>
<circle cx="646.58" cy="2111.52" r="2.1" fill="#9c9c9c" fill-opacity="0.85"/>
<circle cx="638.58" cy="2111.1" r="2.1" fill="#9c9c9c" fill-opacity="0.85"/>
<circle cx="642.58" cy="2105.59" r="2.1" fill="#9c9c9c" fill-opacity="0.85"/>
<circle cx="642.58" cy="2100.38" r="2.1" fill="#9c9c9c" fill-opacity="0.85"/>
<circle cx="642.58" cy="2081.39" r="2.1" fill="#9c9c9c" fill-opacity="0.85"/>
<circle cx="647.58" cy="2081.37" r="2.1" fill="#9c9c9c" fill-opacity="0.85"/>
<circle cx="642.58" cy="2076" r="2.1" fill="#9c9c9c" fill-opacity="0.85"/>
<circle cx="642.58" cy="2066.95" r="2.1" fill="#9c9c9c" fill-opacity="0.85"/>
<circle cx="646.58" cy="2064.24" r="2.1" fill="#9c9c9c" fill-opacity="0.85"/>
<circle cx="642.58" cy="2059.2" r="2.1" fill="#9c9c9c" fill-opacity="0.85"/>
<circle cx="642.58" cy="2044.27" r="2.1" fill="#9c9c9c" fill-opacity="0.85"/>
<circle cx="642.58" cy="2036.87" r="2.1" fill="#9c9c9c" fill-opacity="0.85"/>
<circle cx="646.58" cy="2035.77" r="2.1" fill="#9c9c9c" fill-opacity="0.85"/>
<circle cx="642.58" cy="2023.15" r="2.1" fill="#9c9c9c" fill-opacity="0.85"/>
<circle cx="642.58" cy="2016.7" r="2.1" fill="#9c9c9c" fill-opacity="0.85"/>
<circle cx="644.58" cy="2013" r="2.1" fill="#9c9c9c" fill-opacity="0.85"/>
<circle cx="640.58" cy="2011.44" r="2.1" fill="#9c9c9c" fill-opacity="0.85"/>
<circle cx="647.58" cy="2009.51" r="2.1" fill="#9c9c9c" fill-opacity="0.85"/>
<circle cx="642.58" cy="2004.91" r="2.1" fill="#9c9c9c" fill-opacity="0.85"/>
<circle cx="642.58" cy="1987.25" r="2.1" fill="#9c9c9c" fill-opacity="0.85"/>
<circle cx="642.58" cy="1975.63" r="2.1" fill="#9c9c9c" fill-opacity="0.85"/>
<circle cx="642.58" cy="1954.32" r="2.1" fill="#9c9c9c" fill-opacity="0.85"/>
<circle cx="645.58" cy="1951.26" r="2.1" fill="#9c9c9c" fill-opacity="0.85"/>
<circle cx="642.58" cy="1943.23" r="2.1" fill="#9c9c9c" fill-opacity="0.85"/>
<circle cx="642.58" cy="1902.65" r="2.1" fill="#9c9c9c" fill-opacity="0.85"/>
<circle cx="642.58" cy="1873.68" r="2.1" fill="#9c9c9c" fill-opacity="0.85"/>
<circle cx="642.58" cy="1868.84" r="2.1" fill="#9c9c9c" fill-opacity="0.85"/>
<circle cx="642.58" cy="1843.67" r="2.1" fill="#9c9c9c" fill-opacity="0.85"/>
<circle cx="646.58" cy="1841.25" r="2.1" fill="#9c9c9c" fill-opacity="0.85"/>
<circle cx="642.58" cy="1824.31" r="2.1" fill="#9c9c9c" fill-opacity="0.85"/>
<circle cx="644.58" cy="1820.44" r="2.1" fill="#9c9c9c" fill-opacity="0.85"/>
<circle cx="642.58" cy="1816.57" r="2.1" fill="#9c9c9c" fill-opacity="0.85"/>
<circle cx="642.58" cy="1767.68" r="2.1" fill="#9c9c9c" fill-opacity="0.85"/>
<circle cx="642.58" cy="1736.22" r="2.1" fill="#9c9c9c" fill-opacity="0.85"/>
<circle cx="682.7" cy="2127.9" r="2.1" fill="#9c9c9c" fill-opacity="0.85"/>
<circle cx="687.7" cy="2127.9" r="2.1" fill="#9c9c9c" fill-opacity="0.85"/>
<circle cx="677.7" cy="2127.9" r="2.1" fill="#9c9c9c" fill-opacity="0.85"/>
<circle cx="692.7" cy="2127.9" r="2.1" fill="#9c9c9c" fill-opacity="0.85"/>
<circle cx="672.7" cy="2127.9" r="2.1" fill="#9c9c9c" fill-opacity="0.85"/>
<circle cx="680.19" cy="2127.9" r="2.1" fill="#9c9c9c" fill-opacity="0.85"/>
<circle cx="691.24" cy="2127.9" r="2.1" fill="#9c9c9c" fill-opacity="0.85"/>
<circle cx="673.05" cy="2127.9" r="2.1" fill="#9c9c9c" fill-opacity="0.85"/>
<circle cx="682.7" cy="2124.97" r="2.1" fill="#9c9c9c" fill-opacity="0.85"/>
<circle cx="687.7" cy="2124.95" r="2.1" fill="#9c9c9c" fill-opacity="0.85"/>
<circle cx="678.7" cy="2122.79" r="2.1" fill="#9c9c9c" fill-opacity="0.85"/>
<circle cx="691.7" cy="2122.54" r="2.1" fill="#9c9c9c" fill-opacity="0.85"/>
<circle cx="682.7" cy="2120.72" r="2.1" fill="#9c9c9c" fill-opacity="0.85"/>
<circle cx="686.7" cy="2119.75" r="2.1" fill="#9c9c9c" fill-opacity="0.85"/>
<circle cx="678.7" cy="2118.22" r="2.1" fill="#9c9c9c" fill-opacity="0.85"/>
<circle cx="682.7" cy="2113.09" r="2.1" fill="#9c9c9c" fill-opacity="0.85"/>
<circle cx="686.7" cy="2111.91" r="2.1" fill="#9c9c9c" fill-opacity="0.85"/>
<circle cx="678.7" cy="2111.62" r="2.1" fill="#9c9c9c" fill-opacity="0.85"/>
<circle cx="682.7" cy="2106.54" r="2.1" fill="#9c9c9c" fill-opacity="0.85"/>
<circle cx="687.7" cy="2105.91" r="2.1" fill="#9c9c9c" fill-opacity="0.85"/>
<circle cx="682.7" cy="2101.31" r="2.1" fill="#9c9c9c" fill-opacity="0.85"/>
<circle cx="686.7" cy="2098.67" r="2.1" fill="#9c9c9c" fill-opacity="0.85"/>
<circle cx="679.7" cy="2098.41" r="2.1" fill="#9c9c9c" fill-opacity="0.85"/>
<circle cx="674.7" cy="2098.3" r="2.1" fill="#9c9c9c" fill-opacity="0.85"/>
<circle cx="682.7" cy="2091.41" r="2.1" fill="#9c9c9c" fill-opacity="0.85"/>
<circle cx="682.7" cy="2083.71" r="2.1" fill="#9c9c9c" fill-opacity="0.85"/>
<circle cx="686.7" cy="2081.75" r="2.1" fill="#9c9c9c" fill-opacity="0.85"/>
<circle cx="682.7" cy="2076" r="2.1" fill="#9c9c9c" fill-opacity="0.85"/>
<circle cx="682.7" cy="2063.48" r="2.1" fill="#9c9c9c" fill-opacity="0.85"/>
<circle cx="682.7" cy="2056.79" r="2.1" fill="#9c9c9c" fill-opacity="0.85"/>
<circle cx="685.7" cy="2053.59" r="2.1" fill="#9c9c9c" fill-opacity="0.85"/>
<circle cx="681.7" cy="2052.16" r="2.1" fill="#9c9c9c" fill-opacity="0.85"/>
<circle cx="682.7" cy="2032.47" r="2.1" fill="#9c9c9c" fill-opacity="0.85"/>
<circle cx="682.7" cy="2003.39" r="2.1" fill="#9c9c9c" fill-opacity="0.85"/>
<circle cx="686.7" cy="2002.42" r="2.1" fill="#9c9c9c" fill-opacity="0.85"/>
<circle cx="678.7" cy="2001.46" r="2.1" fill="#9c9c9c" fill-opacity="0.85"/>
<circle cx="682.7" cy="1958.66" r="2.1" fill="#9c9c9c" fill-opacity="0.85"/>
<circle cx="687.7" cy="1958" r="2.1" fill="#9c9c9c" fill-opacity="0.85"/>
<circle cx="682.7" cy="1948.22" r="2.1" fill="#9c9c9c" fill-opacity="0.85"/>
<circle cx="686.7" cy="1947.25" r="2.1" fill="#9c9c9c" fill-opacity="0.85"/>
<circle cx="682.7" cy="1928.99" r="2.1" fill="#9c9c9c" fill-opacity="0.85"/>
<circle cx="686.7" cy="1926.92" r="2.1" fill="#9c9c9c" fill-opacity="0.85"/>
<circle cx="682.7" cy="1919.46" r="2.1" fill="#9c9c9c" fill-opacity="0.85"/>
<circle cx="682.7" cy="1904.83" r="2.1" fill="#9c9c9c" fill-opacity="0.85"/>
<circle cx="682.7" cy="1894.49" r="2.1" fill="#9c9c9c" fill-opacity="0.85"/>
<circle cx="682.7" cy="1887.72" r="2.1" fill="#9c9c9c" fill-opacity="0.85"/>
<circle cx="682.7" cy="1870.78" r="2.1" fill="#9c9c9c" fill-opacity="0.85"/>
<circle cx="682.7" cy="1865.45" r="2.1" fill="#9c9c9c" fill-opacity="0.85"/>
<circle cx="682.7" cy="1821.41" r="2.1" fill="#9c9c9c" fill-opacity="0.85"/>
<circle cx="682.7" cy="1814.15" r="2.1" fill="#9c9c9c" fill-opacity="0.85"/>
<circle cx="682.7" cy="1796.24" r="2.1" fill="#9c9c9c" fill-opacity="0.85"/>
<circle cx="682.7" cy="1761.88" r="2.1" fill="#9c9c9c" fill-opacity="0.85"/>
<circle cx="682.7" cy="1731.38" r="2.1" fill="#9c9c9c" fill-opacity="0.85"/>
<circle cx="722.82" cy="2127.9" r="2.1" fill="#9c9c9c" fill-opacity="0.85"/>
<circle cx="727.82" cy="2127.9" r="2.1" fill="#9c9c9c" fill-opacity="0.85"/>
<circle cx="717.82" cy="2127.9" r="2.1" fill="#9c9c9c" fill-opacity="0.85"/>
<circle cx="732.82" cy="2127.9" r="2.1" fill="#9c9c9c" fill-opacity="0.85"/>
<circle cx="712.82" cy="2127.9" r="2.1" fill="#9c9c9c" fill-opacity="0.85"/>
<circle cx="721.65" cy="2127.9" r="2.1" fill="#9c9c9c" fill-opacity="0.85"/>
<circle cx="723.96" cy="2127.9" r="2.1" fill="#9c9c9c" fill-opacity="0.85"/>
<circle cx="731.64" cy="2127.9" r="2.1" fill="#9c9c9c" fill-opacity="0.85"/>
<circle cx="730.16" cy="2127.48" r="2.1" fill="#9c9c9c" fill-opacity="0.85"/>
<circle cx="722.82" cy="2125.18" r="2.1" fill="#9c9c9c" fill-opacity="0.85"/>
<circle cx="717.82" cy="2124.87" r="2.1" fill="#9c9c9c" fill-opacity="0.85"/>
<circle cx="722.82" cy="2121" r="2.1" fill="#9c9c9c" fill-opacity="0.85"/>
<circle cx="722.82" cy="2114.98" r="2.1" fill="#9c9c9c" fill-opacity="0.85"/>
<circle cx="726.82" cy="2113.6" r="2.1" fill="#9c9c9c" fill-opacity="0.85"/>
<circle cx="722.82" cy="2103.63" r="2.1" fill="#9c9c9c" fill-opacity="0.85"/>
<circle cx="722.82" cy="2098.54" r="2.1" fill="#9c9c9c" fill-opacity="0.85"/>
<circle cx="722.82" cy="2093.16" r="2.1" fill="#9c9c9c" fill-opacity="0.85"/>
<circle cx="725.82" cy="2089.64" r="2.1" fill="#9c9c9c" fill-opacity="0.85"/>
<circle cx="722.82" cy="2074.22" r="2.1" fill="#9c9c9c" fill-opacity="0.85"/>
<circle cx="726.82" cy="2072.04" r="2.1" fill="#9c9c9c" fill-opacity="0.85"/>
<circle cx="722.82" cy="2067.67" r="2.1" fill="#9c9c9c" fill-opacity="0.85"/>
<circle cx="722.82" cy="2057.95" r="2.1" fill="#9c9c9c" fill-opacity="0.85"/>
<circle cx="725.82" cy="2055.06" r="2.1" fill="#9c9c9c" fill-opacity="0.85"/>
<circle cx="721.82" cy="2053.4" r="2.1" fill="#9c9c9c" fill-opacity="0.85"/>
<circle cx="725.82" cy="2050.61" r="2.1" fill="#9c9c9c" fill-opacity="0.85"/>
<circle cx="722.82" cy="2047.43" r="2.1" fill="#9c9c9c" fill-opacity="0.85"/>
<circle cx="722.82" cy="2034.96" r="2.1" fill="#9c9c9c" fill-opacity="0.85"/>
<circle cx="727.82" cy="2034.88" r="2.1" fill="#9c9c9c" fill-opacity="0.85"/>
<circle cx="717.82" cy="2034.56" r="2.1" fill="#9c9c9c" fill-opacity="0.85"/>
<circle cx="722.82" cy="2029.01" r="2.1" fill="#9c9c9c" fill-opacity="0.85"/>
<circle cx="722.82" cy="2023.6" r="2.1" fill="#9c9c9c" fill-opacity="0.85"/>
<circle cx="722.82" cy="2018.82" r="2.1" fill="#9c9c9c" fill-opacity="0.85"/>
<circle cx="722.82" cy="1993.51" r="2.1" fill="#9c9c9c" fill-opacity="0.85"/>
<circle cx="727.82" cy="1992.71" r="2.1" fill="#9c9c9c" fill-opacity="0.85"/>
<circle cx="722.82" cy="1978.37" r="2.1" fill="#9c9c9c" fill-opacity="0.85"/>
<circle cx="722.82" cy="1946.51" r="2.1" fill="#9c9c9c" fill-opacity="0.85"/>
<circle cx="722.82" cy="1921.66" r="2.1" fill="#9c9c9c" fill-opacity="0.85"/>
<circle cx="722.82" cy="1884.33" r="2.1" fill="#9c9c9c" fill-opacity="0.85"/>
<circle cx="726.82" cy="1883.36" r="2.1" fill="#9c9c9c" fill-opacity="0.85"/>
<circle cx="718.82" cy="1882.39" r="2.1" fill="#9c9c9c" fill-opacity="0.85"/>
<circle cx="722.82" cy="1862.55" r="2.1" fill="#9c9c9c" fill-opacity="0.85"/>
<circle cx="722.82" cy="1852.87" r="2.1" fill="#9c9c9c" fill-opacity="0.85"/>
<circle cx="722.82" cy="1820.92" r="2.1" fill="#9c9c9c" fill-opacity="0.85"/>
<circle cx="722.82" cy="1803.02" r="2.1" fill="#9c9c9c" fill-opacity="0.85"/>
<circle cx="722.82" cy="1785.59" r="2.1" fill="#9c9c9c" fill-opacity="0.85"/>
<circle cx="722.82" cy="1774.46" r="2.1" fill="#9c9c9c" fill-opacity="0.85"/>
<circle cx="762.94" cy="2127.9" r="2.1" fill="#9c9c9c" fill-opacity="0.85"/>
<circle cx="767.94" cy="2127.9" r="2.1" fill="#9c9c9c" fill-opacity="0.85"/>
<circle cx="757.94" cy="2127.9" r="2.1" fill="#9c9c9c" fill-opacity="0.85"/>
<circle cx="772.94" cy="2127.9" r="2.1" fill="#9c9c9c" fill-opacity="0.85"/>
<circle cx="752.94" cy="2127.9" r="2.1" fill="#9c9c9c" fill-opacity="0.85"/>
<circle cx="771.31" cy="2127.9" r="2.1" fill="#9c9c9c" fill-opacity="0.85"/>
<circle cx="757.84" cy="2127.9" r="2.1" fill="#9c9c9c" fill-opacity="0.85"/>
<circle cx="760.99" cy="2127.9" r="2.1" fill="#9c9c9c" fill-opacity="0.85"/>
<circle cx="759.69" cy="2127.9" r="2.1" fill="#9c9c9c" fill-opacity="0.85"/>
<circle cx="771.78" cy="2127.9" r="2.1" fill="#9c9c9c" fill-opacity="0.85"/>
<circle cx="762.94" cy="2125.2" r="2.1" fill="#9c9c9c" fill-opacity="0.85"/>
<circle cx="766.94" cy="2123.75" r="2.1" fill="#9c9c9c" fill-opacity="0.85"/>
<circle cx="758.94" cy="2123.56" r="2.1" fill="#9c9c9c" fill-opacity="0.85"/>
<circle cx="770.94" cy="2122.54" r="2.1" fill="#9c9c9c" fill-opacity="0.85"/>
<circle cx="754.94" cy="2121.5" r="2.1" fill="#9c9c9c" fill-opacity="0.85"/>
<circle cx="762.94" cy="2119.92" r="2.1" fill="#9c9c9c" fill-opacity="0.85"/>
<circle cx="765.94" cy="2116.66" r="2.1" fill="#9c9c9c" fill-opacity="0.85"/>
<circle cx="761.94" cy="2114.28" r="2.1" fill="#9c9c9c" fill-opacity="0.85"/>
<circle cx="767.94" cy="2112.76" r="2.1" fill="#9c9c9c" fill-opacity="0.85"/>
<circle cx="757.94" cy="2112.12" r="2.1" fill="#9c9c9c" fill-opacity="0.85"/>
<circle cx="771.94" cy="2111.58" r="2.1" fill="#9c9c9c" fill-opacity="0.85"/>
<circle cx="752.94" cy="2111.51" r="2.1" fill="#9c9c9c" fill-opacity="0.85"/>
<circle cx="773.47" cy="2111.48" r="2.1" fill="#9c9c9c" fill-opacity="0.85"/>
<circle cx="754.91" cy="2110.76" r="2.1" fill="#9c9c9c" fill-opacity="0.85"/>
<circle cx="762.94" cy="2099.55" r="2.1" fill="#9c9c9c" fill-opacity="0.85"/>
<circle cx="762.94" cy="2092.78" r="2.1" fill="#9c9c9c" fill-opacity="0.85"/>
<circle cx="762.94" cy="2073.03" r="2.1" fill="#9c9c9c" fill-opacity="0.85"/>
<circle cx="767.94" cy="2072.69" r="2.1" fill="#9c9c9c" fill-opacity="0.85"/>
<circle cx="758.94" cy="2070.79" r="2.1" fill="#9c9c9c" fill-opacity="0.85"/>
<circle cx="762.94" cy="2068.48" r="2.1" fill="#9c9c9c" fill-opacity="0.85"/>
<circle cx="762.94" cy="2054.86" r="2.1" fill="#9c9c9c" fill-opacity="0.85"/>
<circle cx="762.94" cy="1997.02" r="2.1" fill="#9c9c9c" fill-opacity="0.85"/>
<circle cx="766.94" cy="1994.37" r="2.1" fill="#9c9c9c" fill-opacity="0.85"/>
<circle cx="762.94" cy="1988.75" r="2.1" fill="#9c9c9c" fill-opacity="0.85"/>
<circle cx="762.94" cy="1957.69" r="2.1" fill="#9c9c9c" fill-opacity="0.85"/>
<circle cx="762.94" cy="1934.75" r="2.1" fill="#9c9c9c" fill-opacity="0.85"/>
<circle cx="762.94" cy="1920.75" r="2.1" fill="#9c9c9c" fill-opacity="0.85"/>
<circle cx="762.94" cy="1877.55" r="2.1" fill="#9c9c9c" fill-opacity="0.85"/>
<circle cx="766.94" cy="1876.58" r="2.1" fill="#9c9c9c" fill-opacity="0.85"/>
<circle cx="762.94" cy="1861.58" r="2.1" fill="#9c9c9c" fill-opacity="0.85"/>
<circle cx="764.94" cy="1857.71" r="2.1" fill="#9c9c9c" fill-opacity="0.85"/>
<circle cx="762.94" cy="1833.51" r="2.1" fill="#9c9c9c" fill-opacity="0.85"/>
<circle cx="762.94" cy="1811.73" r="2.1" fill="#9c9c9c" fill-opacity="0.85"/>
<circle cx="766.94" cy="1809.79" r="2.1" fill="#9c9c9c" fill-opacity="0.85"/>
<circle cx="762.94" cy="1785.59" r="2.1" fill="#9c9c9c" fill-opacity="0.85"/>
<circle cx="803.06" cy="2127.9" r="2.1" fill="#9c9c9c" fill-opacity="0.85"/>
<circle cx="808.06" cy="2127.9" r="2.1" fill="#9c9c9c" fill-opacity="0.85"/>
<circle cx="798.06" cy="2127.9" r="2.1" fill="#9c9c9c" fill-opacity="0.85"/>
<circle cx="813.06" cy="2127.9" r="2.1" fill="#9c9c9c" fill-opacity="0.85"/>
<circle cx="793.06" cy="2127.9" r="2.1" fill="#9c9c9c" fill-opacity="0.85"/>
<circle cx="795.61" cy="2127.9" r="2.1" fill="#9c9c9c" fill-opacity="0.85"/>
<circle cx="796.9" cy="2127.9" r="2.1" fill="#9c9c9c" fill-opacity="0.85"/>
<circle cx="796.93" cy="2127.9" r="2.1" fill="#9c9c9c" fill-opacity="0.85"/>
<circle cx="802.71" cy="2127.9" r="2.1" fill="#9c9c9c" fill-opacity="0.85"/>
<circle cx="806.06" cy="2125.09" r="2.1" fill="#9c9c9c" fill-opacity="0.85"/>
<circle cx="803.06" cy="2117.74" r="2.1" fill="#9c9c9c" fill-opacity="0.85"/>
<circle cx="807.06" cy="2115.74" r="2.1" fill="#9c9c9c" fill-opacity="0.85"/>
<circle cx="802.06" cy="2113.71" r="2.1" fill="#9c9c9c" fill-opacity="0.85"/>
<circle cx="797.06" cy="2113.07" r="2.1" fill="#9c9c9c" fill-opacity="0.85"/>
<circle cx="804.06" cy="2109.94" r="2.1" fill="#9c9c9c" fill-opacity="0.85"/>
<circle cx="803.06" cy="2098.23" r="2.1" fill="#9c9c9c" fill-opacity="0.85"/>
<circle cx="803.06" cy="2092.58" r="2.1" fill="#9c9c9c" fill-opacity="0.85"/>
<circle cx="808.06" cy="2092.11" r="2.1" fill="#9c9c9c" fill-opacity="0.85"/>
<circle cx="803.06" cy="2088.39" r="2.1" fill="#9c9c9c" fill-opacity="0.85"/>
<circle cx="806.06" cy="2085.41" r="2.1" fill="#9c9c9c" fill-opacity="0.85"/>
<circle cx="802.06" cy="2082.87" r="2.1" fill="#9c9c9c" fill-opacity="0.85"/>
<circle cx="808.06" cy="2081.65" r="2.1" fill="#9c9c9c" fill-opacity="0.85"/>
<circle cx="803.06" cy="2066.98" r="2.1" fill="#9c9c9c" fill-opacity="0.85"/>
<circle cx="808.06" cy="2066.26" r="2.1" fill="#9c9c9c" fill-opacity="0.85"/>
<circle cx="799.06" cy="2064.59" r="2.1" fill="#9c9c9c" fill-opacity="0.85"/>
<circle cx="803.06" cy="2048.97" r="2.1" fill="#9c9c9c" fill-opacity="0.85"/>
<circle cx="808.06" cy="2048.34" r="2.1" fill="#9c9c9c" fill-opacity="0.85"/>
<circle cx="805.06" cy="2045.12" r="2.1" fill="#9c9c9c" fill-opacity="0.85"/>
<circle cx="803.06" cy="2041.49" r="2.1" fill="#9c9c9c" fill-opacity="0.85"/>
<circle cx="803.06" cy="2034.77" r="2.1" fill="#9c9c9c" fill-opacity="0.85"/>
<circle cx="807.06" cy="2033.47" r="2.1" fill="#9c9c9c" fill-opacity="0.85"/>
<circle cx="803.06" cy="2022.5" r="2.1" fill="#9c9c9c" fill-opacity="0.85"/>
<circle cx="803.06" cy="2012.93" r="2.1" fill="#9c9c9c" fill-opacity="0.85"/>
<circle cx="803.06" cy="2001.53" r="2.1" fill="#9c9c9c" fill-opacity="0.85"/>
<circle cx="803.06" cy="1989.58" r="2.1" fill="#9c9c9c" fill-opacity="0.85"/>
<circle cx="803.06" cy="1980.78" r="2.1" fill="#9c9c9c" fill-opacity="0.85"/>
<circle cx="803.06" cy="1933.12" r="2.1" fill="#9c9c9c" fill-opacity="0.85"/>
<circle cx="803.06" cy="1903.69" r="2.1" fill="#9c9c9c" fill-opacity="0.85"/>
<circle cx="807.06" cy="1902.72" r="2.1" fill="#9c9c9c" fill-opacity="0.85"/>
<circle cx="803.06" cy="1899.33" r="2.1" fill="#9c9c9c" fill-opacity="0.85"/>
<circle cx="803.06" cy="1885.78" r="2.1" fill="#9c9c9c" fill-opacity="0.85"/>
<circle cx="803.06" cy="1871.26" r="2.1" fill="#9c9c9c" fill-opacity="0.85"/>
<circle cx="807.06" cy="1870.29" r="2.1" fill="#9c9c9c" fill-opacity="0.85"/>
<circle cx="799.06" cy="1869.32" r="2.1" fill="#9c9c9c" fill-opacity="0.85"/>
<circle cx="803.06" cy="1866.42" r="2.1" fill="#9c9c9c" fill-opacity="0.85"/>
<circle cx="803.06" cy="1854.32" r="2.1" fill="#9c9c9c" fill-opacity="0.85"/>
<circle cx="805.06" cy="1850.45" r="2.1" fill="#9c9c9c" fill-opacity="0.85"/>
<circle cx="801.06" cy="1848.51" r="2.1" fill="#9c9c9c" fill-opacity="0.85"/>
<circle cx="843.18" cy="2127.9" r="2.1" fill="#9c9c9c" fill-opacity="0.85"/>
<circle cx="848.18" cy="2127.9" r="2.1" fill="#9c9c9c" fill-opacity="0.85"/>
<circle cx="838.18" cy="2127.9" r="2.1" fill="#9c9c9c" fill-opacity="0.85"/>
<circle cx="853.18" cy="2127.9" r="2.1" fill="#9c9c9c" fill-opacity="0.85"/>
<circle cx="833.18" cy="2127.9" r="2.1" fill="#9c9c9c" fill-opacity="0.85"/>
<circle cx="845.23" cy="2127.9" r="2.1" fill="#9c9c9c" fill-opacity="0.85"/>
<circle cx="837.72" cy="2127.9" r="2.1" fill="#9c9c9c" fill-opacity="0.85"/>
<circle cx="831.77" cy="2127.9" r="2.1" fill="#9c9c9c" fill-opacity="0.85"/>
<circle cx="841.18" cy="2126.07" r="2.1" fill="#9c9c9c" fill-opacity="0.85"/>
<circle cx="848.18" cy="2125.67" r="2.1" fill="#9c9c9c" fill-opacity="0.85"/>
<circle cx="836.18" cy="2125.13" r="2.1" fill="#9c9c9c" fill-opacity="0.85"/>
<circle cx="852.18" cy="2124.27" r="2.1" fill="#9c9c9c" fill-opacity="0.85"/>
<circle cx="844.18" cy="2122.57" r="2.1" fill="#9c9c9c" fill-opacity="0.85"/>
<circle cx="840.18" cy="2120.32" r="2.1" fill="#9c9c9c" fill-opacity="0.85"/>
<circle cx="843.18" cy="2116.83" r="2.1" fill="#9c9c9c" fill-opacity="0.85"/>
<circle cx="843.18" cy="2111.01" r="2.1" fill="#9c9c9c" fill-opacity="0.85"/>
<circle cx="843.18" cy="2103.3" r="2.1" fill="#9c9c9c" fill-opacity="0.85"/>
<circle cx="843.18" cy="2098.56" r="2.1" fill="#9c9c9c" fill-opacity="0.85"/>
<circle cx="843.18" cy="2090.16" r="2.1" fill="#9c9c9c" fill-opacity="0.85"/>
<circle cx="846.18" cy="2087.21" r="2.1" fill="#9c9c9c" fill-opacity="0.85"/>
<circle cx="843.18" cy="2077.36" r="2.1" fill="#9c9c9c" fill-opacity="0.85"/>
<circle cx="845.18" cy="2073.63" r="2.1" fill="#9c9c9c" fill-opacity="0.85"/>
<circle cx="843.18" cy="2069.53" r="2.1" fill="#9c9c9c" fill-opacity="0.85"/>
<circle cx="848.18" cy="2068.77" r="2.1" fill="#9c9c9c" fill-opacity="0.85"/>
<circle cx="840.18" cy="2066.47" r="2.1" fill="#9c9c9c" fill-opacity="0.85"/>
<circle cx="843.18" cy="2063.06" r="2.1" fill="#9c9c9c" fill-opacity="0.85"/>
<circle cx="843.18" cy="2015.22" r="2.1" fill="#9c9c9c" fill-opacity="0.85"/>
<circle cx="843.18" cy="2011.01" r="2.1" fill="#9c9c9c" fill-opacity="0.85"/>
<circle cx="848.18" cy="2010.88" r="2.1" fill="#9c9c9c" fill-opacity="0.85"/>
<circle cx="843.18" cy="1999.52" r="2.1" fill="#9c9c9c" fill-opacity="0.85"/>
<circle cx="843.18" cy="1994.68" r="2.1" fill="#9c9c9c" fill-opacity="0.85"/>
<circle cx="843.18" cy="1989.84" r="2.1" fill="#9c9c9c" fill-opacity="0.85"/>
<circle cx="843.18" cy="1978.71" r="2.1" fill="#9c9c9c" fill-opacity="0.85"/>
<circle cx="843.18" cy="1973.38" r="2.1" fill="#9c9c9c" fill-opacity="0.85"/>
<circle cx="847.18" cy="1971.45" r="2.1" fill="#9c9c9c" fill-opacity="0.85"/>
<circle cx="843.18" cy="1949.67" r="2.1" fill="#9c9c9c" fill-opacity="0.85"/>
<circle cx="843.18" cy="1932.73" r="2.1" fill="#9c9c9c" fill-opacity="0.85"/>
<circle cx="843.18" cy="1912.88" r="2.1" fill="#9c9c9c" fill-opacity="0.85"/>
<circle cx="843.18" cy="1908.53" r="2.1" fill="#9c9c9c" fill-opacity="0.85"/>
<circle cx="843.18" cy="1889.65" r="2.1" fill="#9c9c9c" fill-opacity="0.85"/>
<circle cx="883.3" cy="2127.9" r="2.1" fill="#9c9c9c" fill-opacity="0.85"/>
<circle cx="888.3" cy="2127.9" r="2.1" fill="#9c9c9c" fill-opacity="0.85"/>
<circle cx="878.3" cy="2127.9" r="2.1" fill="#9c9c9c" fill-opacity="0.85"/>
<circle cx="893.3" cy="2127.9" r="2.1" fill="#9c9c9c" fill-opacity="0.85"/>
<circle cx="873.3" cy="2127.9" r="2.1" fill="#9c9c9c" fill-opacity="0.85"/>
<circle cx="881.44" cy="2127.9" r="2.1" fill="#9c9c9c" fill-opacity="0.85"/>
<circle cx="880.29" cy="2127.9" r="2.1" fill="#9c9c9c" fill-opacity="0.85"/>
<circle cx="884.83" cy="2127.9" r="2.1" fill="#9c9c9c" fill-opacity="0.85"/>
<circle cx="893.72" cy="2127.9" r="2.1" fill="#9c9c9c" fill-opacity="0.85"/>
<circle cx="887.68" cy="2127.9" r="2.1" fill="#9c9c9c" fill-opacity="0.85"/>
<circle cx="883.66" cy="2127.9" r="2.1" fill="#9c9c9c" fill-opacity="0.85"/>
<circle cx="886" cy="2127.59" r="2.1" fill="#9c9c9c" fill-opacity="0.85"/>
<circle cx="881.3" cy="2124.51" r="2.1" fill="#9c9c9c" fill-opacity="0.85"/>
<circle cx="885.3" cy="2122.6" r="2.1" fill="#9c9c9c" fill-opacity="0.85"/>
<circle cx="883.3" cy="2118.63" r="2.1" fill="#9c9c9c" fill-opacity="0.85"/>
<circle cx="888.3" cy="2117.84" r="2.1" fill="#9c9c9c" fill-opacity="0.85"/>
<circle cx="880.3" cy="2115.8" r="2.1" fill="#9c9c9c" fill-opacity="0.85"/>
<circle cx="875.3" cy="2115.76" r="2.1" fill="#9c9c9c" fill-opacity="0.85"/>
<circle cx="892.3" cy="2115.39" r="2.1" fill="#9c9c9c" fill-opacity="0.85"/>
<circle cx="883.3" cy="2104.41" r="2.1" fill="#9c9c9c" fill-opacity="0.85"/>
<circle cx="887.3" cy="2102.91" r="2.1" fill="#9c9c9c" fill-opacity="0.85"/>
<circle cx="880.3" cy="2100.95" r="2.1" fill="#9c9c9c" fill-opacity="0.85"/>
<circle cx="883.3" cy="2096.63" r="2.1" fill="#9c9c9c" fill-opacity="0.85"/>
<circle cx="883.3" cy="2009.2" r="2.1" fill="#9c9c9c" fill-opacity="0.85"/>
<circle cx="883.3" cy="2003.88" r="2.1" fill="#9c9c9c" fill-opacity="0.85"/>
<circle cx="883.3" cy="1989.36" r="2.1" fill="#9c9c9c" fill-opacity="0.85"/>
<circle cx="883.3" cy="1979.19" r="2.1" fill="#9c9c9c" fill-opacity="0.85"/>
<circle cx="883.3" cy="1963.22" r="2.1" fill="#9c9c9c" fill-opacity="0.85"/>
<circle cx="883.3" cy="1931.28" r="2.1" fill="#9c9c9c" fill-opacity="0.85"/>
<circle cx="883.3" cy="1891.1" r="2.1" fill="#9c9c9c" fill-opacity="0.85"/>
<circle cx="883.3" cy="1867.87" r="2.1" fill="#9c9c9c" fill-opacity="0.85"/>
<circle cx="923.42" cy="2127.9" r="2.1" fill="#9c9c9c" fill-opacity="0.85"/>
<circle cx="928.42" cy="2127.9" r="2.1" fill="#9c9c9c" fill-opacity="0.85"/>
<circle cx="918.42" cy="2127.9" r="2.1" fill="#9c9c9c" fill-opacity="0.85"/>
<circle cx="933.42" cy="2127.9" r="2.1" fill="#9c9c9c" fill-opacity="0.85"/>
<circle cx="913.42" cy="2127.9" r="2.1" fill="#9c9c9c" fill-opacity="0.85"/>
<circle cx="927.47" cy="2127.9" r="2.1" fill="#9c9c9c" fill-opacity="0.85"/>
<circle cx="913.16" cy="2127.9" r="2.1" fill="#9c9c9c" fill-opacity="0.85"/>
<circle cx="932.61" cy="2127.9" r="2.1" fill="#9c9c9c" fill-opacity="0.85"/>
<circle cx="929.86" cy="2127.9" r="2.1" fill="#9c9c9c" fill-opacity="0.85"/>
<circle cx="932.03" cy="2127.9" r="2.1" fill="#9c9c9c" fill-opacity="0.85"/>
<circle cx="930.27" cy="2127.9" r="2.1" fill="#9c9c9c" fill-opacity="0.85"/>
<circle cx="920.94" cy="2127.9" r="2.1" fill="#9c9c9c" fill-opacity="0.85"/>
<circle cx="921.1" cy="2127.9" r="2.1" fill="#9c9c9c" fill-opacity="0.85"/>
<circle cx="914.3" cy="2127.9" r="2.1" fill="#9c9c9c" fill-opacity="0.85"/>
<circle cx="926.51" cy="2127.9" r="2.1" fill="#9c9c9c" fill-opacity="0.85"/>
<circle cx="913.35" cy="2127.9" r="2.1" fill="#9c9c9c" fill-opacity="0.85"/>
<circle cx="913.47" cy="2127.9" r="2.1" fill="#9c9c9c" fill-opacity="0.85"/>
<circle cx="916.72" cy="2127.9" r="2.1" fill="#9c9c9c" fill-opacity="0.85"/>
<circle cx="915.65" cy="2127.9" r="2.1" fill="#9c9c9c" fill-opacity="0.85"/>
<circle cx="919.74" cy="2127.9" r="2.1" fill="#9c9c9c" fill-opacity="0.85"/>
<circle cx="913.13" cy="2127.9" r="2.1" fill="#9c9c9c" fill-opacity="0.85"/>
<circle cx="911.93" cy="2127.9" r="2.1" fill="#9c9c9c" fill-opacity="0.85"/>
<circle cx="915.4" cy="2127.9" r="2.1" fill="#9c9c9c" fill-opacity="0.85"/>
<circle cx="914.25" cy="2127.9" r="2.1" fill="#9c9c9c" fill-opacity="0.85"/>
<circle cx="920.28" cy="2127.9" r="2.1" fill="#9c9c9c" fill-opacity="0.85"/>
<circle cx="912.51" cy="2127.41" r="2.1" fill="#9c9c9c" fill-opacity="0.85"/>
<circle cx="923.42" cy="2125.14" r="2.1" fill="#9c9c9c" fill-opacity="0.85"/>
<circle cx="926.42" cy="2122.24" r="2.1" fill="#9c9c9c" fill-opacity="0.85"/>
<circle cx="922.42" cy="2119.79" r="2.1" fill="#9c9c9c" fill-opacity="0.85"/>
<circle cx="928.42" cy="2118.48" r="2.1" fill="#9c9c9c" fill-opacity="0.85"/>
<circle cx="923.42" cy="2079.38" r="2.1" fill="#9c9c9c" fill-opacity="0.85"/>
<circle cx="923.42" cy="2068.73" r="2.1" fill="#9c9c9c" fill-opacity="0.85"/>
<circle cx="923.42" cy="2061.47" r="2.1" fill="#9c9c9c" fill-opacity="0.85"/>
<circle cx="963.54" cy="2127.9" r="2.1" fill="#9c9c9c" fill-opacity="0.85"/>
<circle cx="968.54" cy="2127.9" r="2.1" fill="#9c9c9c" fill-opacity="0.85"/>
<circle cx="958.54" cy="2127.9" r="2.1" fill="#9c9c9c" fill-opacity="0.85"/>
<circle cx="973.54" cy="2127.9" r="2.1" fill="#9c9c9c" fill-opacity="0.85"/>
<circle cx="953.54" cy="2127.9" r="2.1" fill="#9c9c9c" fill-opacity="0.85"/>
<circle cx="972.15" cy="2127.9" r="2.1" fill="#9c9c9c" fill-opacity="0.85"/>
<circle cx="966.16" cy="2127.9" r="2.1" fill="#9c9c9c" fill-opacity="0.85"/>
<circle cx="955.46" cy="2127.9" r="2.1" fill="#9c9c9c" fill-opacity="0.85"/>
<circle cx="957.84" cy="2127.9" r="2.1" fill="#9c9c9c" fill-opacity="0.85"/>
<circle cx="960.03" cy="2127.9" r="2.1" fill="#9c9c9c" fill-opacity="0.85"/>
<circle cx="960.42" cy="2127.9" r="2.1" fill="#9c9c9c" fill-opacity="0.85"/>
<circle cx="954.87" cy="2127.9" r="2.1" fill="#9c9c9c" fill-opacity="0.85"/>
<circle cx="971.57" cy="2127.9" r="2.1" fill="#9c9c9c" fill-opacity="0.85"/>
<circle cx="974.88" cy="2127.9" r="2.1" fill="#9c9c9c" fill-opacity="0.85"/>
<circle cx="962.76" cy="2127.9" r="2.1" fill="#9c9c9c" fill-opacity="0.85"/>
<circle cx="963.17" cy="2127.9" r="2.1" fill="#9c9c9c" fill-opacity="0.85"/>
<circle cx="954.02" cy="2127.9" r="2.1" fill="#9c9c9c" fill-opacity="0.85"/>
<circle cx="954.39" cy="2127.9" r="2.1" fill="#9c9c9c" fill-opacity="0.85"/>
<circle cx="959.92" cy="2127.9" r="2.1" fill="#9c9c9c" fill-opacity="0.85"/>
<circle cx="958.13" cy="2127.9" r="2.1" fill="#9c9c9c" fill-opacity="0.85"/>
<circle cx="971.1" cy="2127.9" r="2.1" fill="#9c9c9c" fill-opacity="0.85"/>
<circle cx="955.75" cy="2127.9" r="2.1" fill="#9c9c9c" fill-opacity="0.85"/>
<circle cx="952.57" cy="2127.9" r="2.1" fill="#9c9c9c" fill-opacity="0.85"/>
<circle cx="973.91" cy="2127.9" r="2.1" fill="#9c9c9c" fill-opacity="0.85"/>
<circle cx="964.19" cy="2127.34" r="2.1" fill="#9c9c9c" fill-opacity="0.85"/>
<circle cx="955.41" cy="2127.02" r="2.1" fill="#9c9c9c" fill-opacity="0.85"/>
<circle cx="960.54" cy="2124.77" r="2.1" fill="#9c9c9c" fill-opacity="0.85"/>
<circle cx="967.54" cy="2124.33" r="2.1" fill="#9c9c9c" fill-opacity="0.85"/>
<circle cx="963.54" cy="2091.96" r="2.1" fill="#9c9c9c" fill-opacity="0.85"/>
<circle cx="963.54" cy="2087.12" r="2.1" fill="#9c9c9c" fill-opacity="0.85"/>
<circle cx="963.54" cy="2082.77" r="2.1" fill="#9c9c9c" fill-opacity="0.85"/>
<circle cx="1003.66" cy="2127.9" r="2.1" fill="#9c9c9c" fill-opacity="0.85"/>
<circle cx="1008.66" cy="2127.9" r="2.1" fill="#9c9c9c" fill-opacity="0.85"/>
<circle cx="998.66" cy="2127.9" r="2.1" fill="#9c9c9c" fill-opacity="0.85"/>
<circle cx="1013.66" cy="2127.9" r="2.1" fill="#9c9c9c" fill-opacity="0.85"/>
<circle cx="993.66" cy="2127.9" r="2.1" fill="#9c9c9c" fill-opacity="0.85"/>
<circle cx="1004.65" cy="2127.9" r="2.1" fill="#9c9c9c" fill-opacity="0.85"/>
<circle cx="992.78" cy="2127.9" r="2.1" fill="#9c9c9c" fill-opacity="0.85"/>
<circle cx="1004.31" cy="2127.9" r="2.1" fill="#9c9c9c" fill-opacity="0.85"/>
<circle cx="1014.67" cy="2127.9" r="2.1" fill="#9c9c9c" fill-opacity="0.85"/>
<circle cx="1012.02" cy="2127.9" r="2.1" fill="#9c9c9c" fill-opacity="0.85"/>
<circle cx="1043.78" cy="2127.9" r="2.1" fill="#9c9c9c" fill-opacity="0.85"/>
<circle cx="1048.78" cy="2127.9" r="2.1" fill="#9c9c9c" fill-opacity="0.85"/>
<circle cx="1038.78" cy="2127.9" r="2.1" fill="#9c9c9c" fill-opacity="0.85"/>
<circle cx="1053.78" cy="2127.9" r="2.1" fill="#9c9c9c" fill-opacity="0.85"/>
<circle cx="1033.78" cy="2127.9" r="2.1" fill="#9c9c9c" fill-opacity="0.85"/>
<circle cx="1048.29" cy="2127.9" r="2.1" fill="#9c9c9c" fill-opacity="0.85"/>
<circle cx="1038.29" cy="2127.9" r="2.1" fill="#9c9c9c" fill-opacity="0.85"/>
<circle cx="1040.71" cy="2127.9" r="2.1" fill="#9c9c9c" fill-opacity="0.85"/>
<circle cx="1036.12" cy="2127.9" r="2.1" fill="#9c9c9c" fill-opacity="0.85"/>
<circle cx="1050.03" cy="2127.9" r="2.1" fill="#9c9c9c" fill-opacity="0.85"/>
<circle cx="1083.9" cy="2127.9" r="2.1" fill="#9c9c9c" fill-opacity="0.85"/>
<circle cx="1088.9" cy="2127.9" r="2.1" fill="#9c9c9c" fill-opacity="0.85"/>
<circle cx="1078.9" cy="2127.9" r="2.1" fill="#9c9c9c" fill-opacity="0.85"/>
<circle cx="1093.9" cy="2127.9" r="2.1" fill="#9c9c9c" fill-opacity="0.85"/>
<circle cx="1073.9" cy="2127.9" r="2.1" fill="#9c9c9c" fill-opacity="0.85"/>
<circle cx="1084.65" cy="2127.9" r="2.1" fill="#9c9c9c" fill-opacity="0.85"/>
<circle cx="1090.32" cy="2127.9" r="2.1" fill="#9c9c9c" fill-opacity="0.85"/>
<circle cx="1079.98" cy="2127.9" r="2.1" fill="#9c9c9c" fill-opacity="0.85"/>
<circle cx="1077.53" cy="2127.9" r="2.1" fill="#9c9c9c" fill-opacity="0.85"/>
<circle cx="1091.06" cy="2127.9" r="2.1" fill="#9c9c9c" fill-opacity="0.85"/>
<circle cx="1083.9" cy="2116.65" r="2.1" fill="#9c9c9c" fill-opacity="0.85"/>
<text x="184.3" y="2142.02" font-size="34.5" text-anchor="start" fill="#000">0.0</text>
<text x="184.55" y="2045.22" font-size="34.5" text-anchor="start" fill="#000">0.2</text>
<text x="183.8" y="1948.42" font-size="34.5" text-anchor="start" fill="#000">0.4</text>
<text x="184.3" y="1851.62" font-size="34.5" text-anchor="start" fill="#000">0.6</text>
<text x="184.3" y="1754.82" font-size="34.5" text-anchor="start" fill="#000">0.8</text>
<text x="184.3" y="1658.02" font-size="34.5" text-anchor="start" fill="#000">1.0</text>
<text transform="translate(293.3,2140.2) rotate(-90)" font-size="35" text-anchor="end" fill="#000">1</text>
<text transform="translate(333.42,2140.2) rotate(-90)" font-size="35" text-anchor="end" fill="#000">2</text>
<text transform="translate(373.54,2140.2) rotate(-90)" font-size="35" text-anchor="end" fill="#000">3</text>
<text transform="translate(413.66,2140.2) rotate(-90)" font-size="35" text-anchor="end" fill="#000">4</text>
<text transform="translate(453.78,2140.2) rotate(-90)" font-size="35" text-anchor="end" fill="#000">5</text>
<text transform="translate(493.9,2140.2) rotate(-90)" font-size="35" text-anchor="end" fill="#000">6</text>
<text transform="translate(534.02,2140.2) rotate(-90)" font-size="35" text-anchor="end" fill="#000">7</text>
<text transform="translate(574.14,2140.2) rotate(-90)" font-size="35" text-anchor="end" fill="#000">8</text>
<text transform="translate(614.26,2140.2) rotate(-90)" font-size="35" text-anchor="end" fill="#000">9</text>
<text transform="translate(654.38,2140.2) rotate(-90)" font-size="35" text-anchor="end" fill="#000">10</text>
<text transform="translate(694.5,2140.2) rotate(-90)" font-size="35" text-anchor="end" fill="#000">11</text>
<text transform="translate(734.62,2140.2) rotate(-90)" font-size="35" text-anchor="end" fill="#000">12</text>
<text transform="translate(774.74,2140.2) rotate(-90)" font-size="35" text-anchor="end" fill="#000">13</text>
<text transform="translate(814.86,2140.2) rotate(-90)" font-size="35" text-anchor="end" fill="#000">14</text>
<text transform="translate(854.98,2140.2) rotate(-90)" font-size="35" text-anchor="end" fill="#000">15</text>
<text transform="translate(895.1,2140.2) rotate(-90)" font-size="35" text-anchor="end" fill="#000">16</text>
<text transform="translate(935.22,2140.2) rotate(-90)" font-size="35" text-anchor="end" fill="#000">17</text>
<text transform="translate(975.34,2140.2) rotate(-90)" font-size="35" text-anchor="end" fill="#000">18</text>
<text transform="translate(1015.46,2140.2) rotate(-90)" font-size="35" text-anchor="end" fill="#000">19</text>
<text transform="translate(1055.58,2140.2) rotate(-90)" font-size="35" text-anchor="end" fill="#000">20</text>
<text transform="translate(1095.7,2140.2) rotate(-90)" font-size="35" text-anchor="end" fill="#000">21</text>
<text x="613.65" y="2222.3" font-size="41.2" text-anchor="start" fill="#000">Position</text>
<text transform="translate(100.3,2138.57) rotate(-90)" font-size="38.1" text-anchor="start" fill="#000">Percentage of total reads with</text>
<text transform="translate(144.3,2071.57) rotate(-90)" font-size="38.1" text-anchor="start" fill="#000">C to T conversion (%)</text>
</svg>
</body></html>
